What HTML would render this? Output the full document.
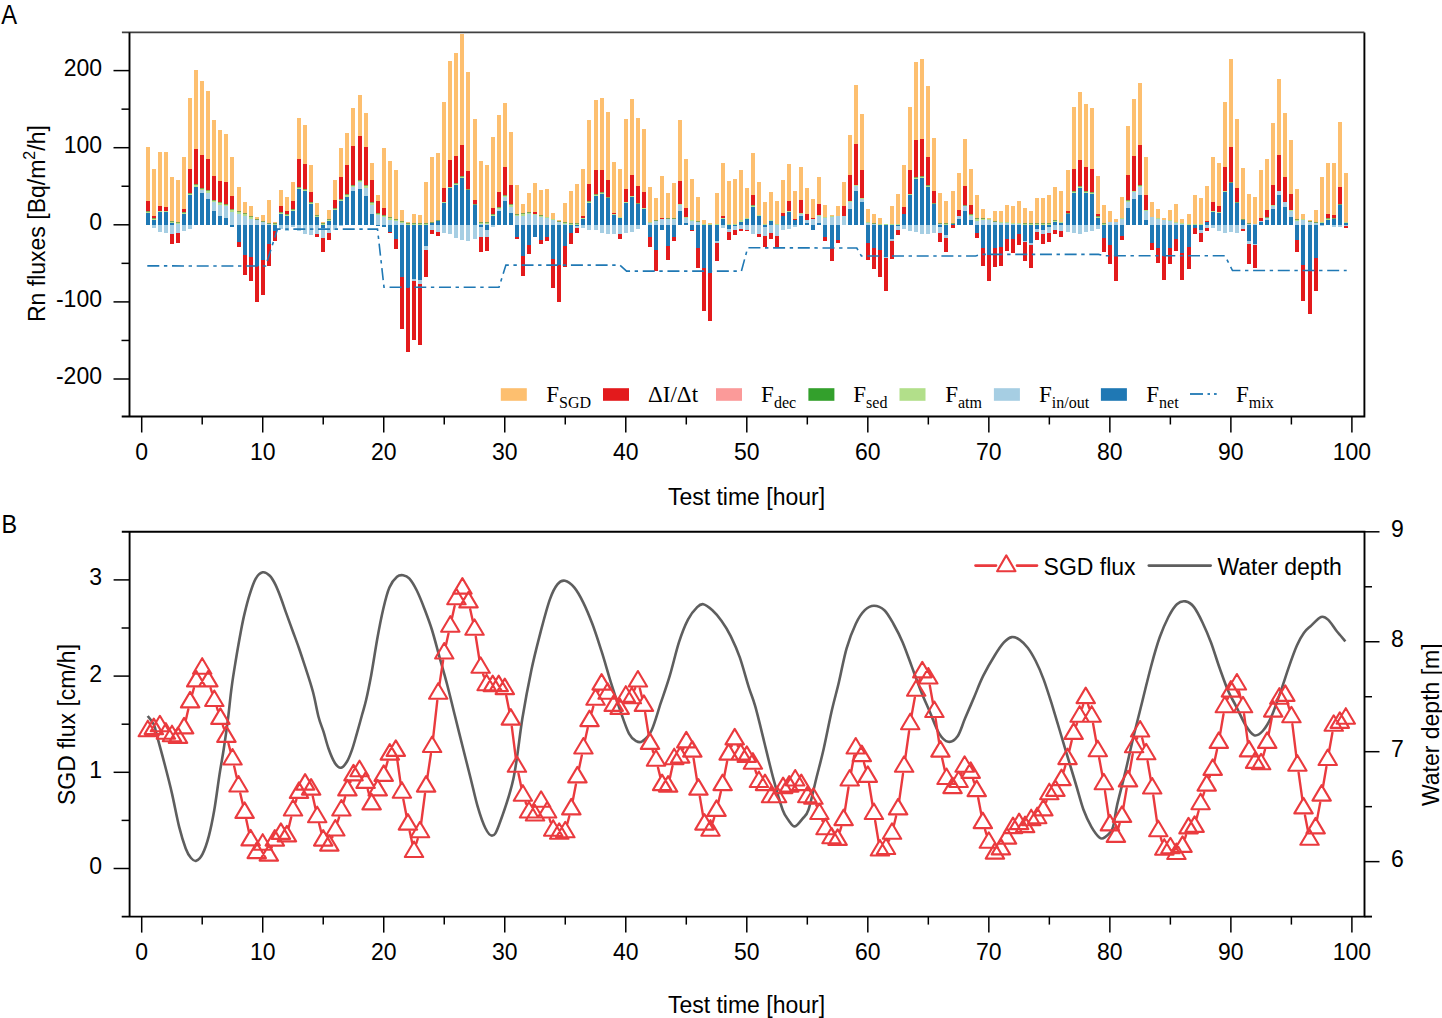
<!DOCTYPE html>
<html><head><meta charset="utf-8"><style>
html,body{margin:0;padding:0;background:#fff;}
svg{display:block;}
text{font-family:"Liberation Sans",sans-serif;fill:#000;}
.serif{font-family:"Liberation Serif",serif;}
</style></head><body>
<svg width="1442" height="1018" viewBox="0 0 1442 1018">
<rect width="1442" height="1018" fill="#fff"/>
<text transform="translate(1.2,24.2) scale(0.88,1)" style="font-size:27px">A</text>
<g shape-rendering="crispEdges">
<rect x="145.75" y="213.00" width="4" height="11.80" fill="#1F78B4"/><rect x="145.75" y="211.20" width="4" height="1.80" fill="#B2DF8A"/><rect x="145.75" y="211.20" width="4" height="0.9" fill="#5E7A30" fill-opacity="0.6"/><rect x="145.75" y="200.90" width="4" height="10.30" fill="#E31A1C"/><rect x="145.75" y="147.20" width="4" height="53.70" fill="#FDBF6F"/><rect x="145.75" y="224.80" width="4" height="0.50" fill="#A6CEE3"/>
<rect x="151.80" y="219.70" width="4" height="5.10" fill="#1F78B4"/><rect x="151.80" y="217.90" width="4" height="1.80" fill="#B2DF8A"/><rect x="151.80" y="217.90" width="4" height="0.9" fill="#5E7A30" fill-opacity="0.6"/><rect x="151.80" y="216.00" width="4" height="1.90" fill="#E31A1C"/><rect x="151.80" y="169.30" width="4" height="46.70" fill="#FDBF6F"/><rect x="151.80" y="224.80" width="4" height="2.80" fill="#A6CEE3"/>
<rect x="157.85" y="212.40" width="4" height="12.40" fill="#1F78B4"/><rect x="157.85" y="211.20" width="4" height="1.20" fill="#B2DF8A"/><rect x="157.85" y="206.10" width="4" height="5.10" fill="#E31A1C"/><rect x="157.85" y="152.10" width="4" height="54.00" fill="#FDBF6F"/><rect x="157.85" y="224.80" width="4" height="6.90" fill="#A6CEE3"/>
<rect x="163.90" y="211.70" width="4" height="13.10" fill="#1F78B4"/><rect x="163.90" y="210.50" width="4" height="1.20" fill="#B2DF8A"/><rect x="163.90" y="210.50" width="4" height="0.9" fill="#5E7A30" fill-opacity="0.6"/><rect x="163.90" y="206.60" width="4" height="3.90" fill="#E31A1C"/><rect x="163.90" y="152.10" width="4" height="54.50" fill="#FDBF6F"/><rect x="163.90" y="224.80" width="4" height="8.60" fill="#A6CEE3"/>
<rect x="169.95" y="223.00" width="4" height="1.80" fill="#1F78B4"/><rect x="169.95" y="220.90" width="4" height="2.10" fill="#B2DF8A"/><rect x="169.95" y="220.90" width="4" height="0.9" fill="#5E7A30" fill-opacity="0.6"/><rect x="169.95" y="177.20" width="4" height="43.70" fill="#FDBF6F"/><rect x="169.95" y="224.80" width="4" height="9.30" fill="#A6CEE3"/><rect x="169.95" y="234.10" width="4" height="10.30" fill="#E31A1C"/>
<rect x="176.01" y="223.60" width="4" height="1.20" fill="#A6CEE3"/><rect x="176.01" y="221.80" width="4" height="1.80" fill="#B2DF8A"/><rect x="176.01" y="221.80" width="4" height="0.9" fill="#5E7A30" fill-opacity="0.6"/><rect x="176.01" y="179.90" width="4" height="41.90" fill="#FDBF6F"/><rect x="176.01" y="224.80" width="4" height="8.20" fill="#A6CEE3"/><rect x="176.01" y="233.00" width="4" height="9.70" fill="#E31A1C"/>
<rect x="182.06" y="213.80" width="4" height="11.00" fill="#1F78B4"/><rect x="182.06" y="212.40" width="4" height="1.40" fill="#B2DF8A"/><rect x="182.06" y="212.40" width="4" height="0.9" fill="#5E7A30" fill-opacity="0.6"/><rect x="182.06" y="209.10" width="4" height="3.30" fill="#E31A1C"/><rect x="182.06" y="156.90" width="4" height="52.20" fill="#FDBF6F"/><rect x="182.06" y="224.80" width="4" height="5.70" fill="#A6CEE3"/>
<rect x="188.11" y="194.90" width="4" height="29.90" fill="#1F78B4"/><rect x="188.11" y="193.00" width="4" height="1.90" fill="#B2DF8A"/><rect x="188.11" y="193.00" width="4" height="0.9" fill="#5E7A30" fill-opacity="0.6"/><rect x="188.11" y="168.80" width="4" height="24.20" fill="#E31A1C"/><rect x="188.11" y="97.50" width="4" height="71.30" fill="#FDBF6F"/><rect x="188.11" y="224.80" width="4" height="3.90" fill="#A6CEE3"/>
<rect x="194.16" y="187.00" width="4" height="37.80" fill="#1F78B4"/><rect x="194.16" y="184.30" width="4" height="2.70" fill="#B2DF8A"/><rect x="194.16" y="184.30" width="4" height="0.9" fill="#5E7A30" fill-opacity="0.6"/><rect x="194.16" y="149.30" width="4" height="35.00" fill="#E31A1C"/><rect x="194.16" y="70.10" width="4" height="79.20" fill="#FDBF6F"/><rect x="194.16" y="224.80" width="4" height="0.50" fill="#A6CEE3"/>
<rect x="200.21" y="193.00" width="4" height="31.80" fill="#1F78B4"/><rect x="200.21" y="190.30" width="4" height="2.70" fill="#A6CEE3"/><rect x="200.21" y="187.80" width="4" height="2.50" fill="#B2DF8A"/><rect x="200.21" y="187.80" width="4" height="0.9" fill="#5E7A30" fill-opacity="0.6"/><rect x="200.21" y="155.00" width="4" height="32.80" fill="#E31A1C"/><rect x="200.21" y="81.10" width="4" height="73.90" fill="#FDBF6F"/>
<rect x="206.26" y="198.80" width="4" height="26.00" fill="#1F78B4"/><rect x="206.26" y="192.60" width="4" height="6.20" fill="#A6CEE3"/><rect x="206.26" y="190.30" width="4" height="2.30" fill="#B2DF8A"/><rect x="206.26" y="190.30" width="4" height="0.9" fill="#5E7A30" fill-opacity="0.6"/><rect x="206.26" y="158.70" width="4" height="31.60" fill="#E31A1C"/><rect x="206.26" y="90.80" width="4" height="67.90" fill="#FDBF6F"/>
<rect x="212.31" y="211.20" width="4" height="13.60" fill="#1F78B4"/><rect x="212.31" y="202.30" width="4" height="8.90" fill="#A6CEE3"/><rect x="212.31" y="199.70" width="4" height="2.60" fill="#B2DF8A"/><rect x="212.31" y="199.70" width="4" height="0.9" fill="#5E7A30" fill-opacity="0.6"/><rect x="212.31" y="175.80" width="4" height="23.90" fill="#E31A1C"/><rect x="212.31" y="120.10" width="4" height="55.70" fill="#FDBF6F"/>
<rect x="218.36" y="216.00" width="4" height="8.80" fill="#1F78B4"/><rect x="218.36" y="205.30" width="4" height="10.70" fill="#A6CEE3"/><rect x="218.36" y="202.30" width="4" height="3.00" fill="#B2DF8A"/><rect x="218.36" y="202.30" width="4" height="0.9" fill="#5E7A30" fill-opacity="0.6"/><rect x="218.36" y="180.80" width="4" height="21.50" fill="#E31A1C"/><rect x="218.36" y="130.20" width="4" height="50.60" fill="#FDBF6F"/>
<rect x="224.41" y="218.30" width="4" height="6.50" fill="#1F78B4"/><rect x="224.41" y="206.40" width="4" height="11.90" fill="#A6CEE3"/><rect x="224.41" y="203.60" width="4" height="2.80" fill="#B2DF8A"/><rect x="224.41" y="203.60" width="4" height="0.9" fill="#5E7A30" fill-opacity="0.6"/><rect x="224.41" y="182.00" width="4" height="21.60" fill="#E31A1C"/><rect x="224.41" y="134.30" width="4" height="47.70" fill="#FDBF6F"/>
<rect x="230.46" y="212.10" width="4" height="12.70" fill="#A6CEE3"/><rect x="230.46" y="209.10" width="4" height="3.00" fill="#B2DF8A"/><rect x="230.46" y="209.10" width="4" height="0.9" fill="#5E7A30" fill-opacity="0.6"/><rect x="230.46" y="196.20" width="4" height="12.90" fill="#E31A1C"/><rect x="230.46" y="156.90" width="4" height="39.30" fill="#FDBF6F"/><rect x="230.46" y="224.80" width="4" height="2.00" fill="#1F78B4"/>
<rect x="236.52" y="213.50" width="4" height="11.30" fill="#A6CEE3"/><rect x="236.52" y="211.00" width="4" height="2.50" fill="#B2DF8A"/><rect x="236.52" y="211.00" width="4" height="0.9" fill="#5E7A30" fill-opacity="0.6"/><rect x="236.52" y="186.80" width="4" height="24.20" fill="#FDBF6F"/><rect x="236.52" y="224.80" width="4" height="17.50" fill="#1F78B4"/><rect x="236.52" y="242.30" width="4" height="4.90" fill="#E31A1C"/>
<rect x="242.57" y="215.60" width="4" height="9.20" fill="#A6CEE3"/><rect x="242.57" y="213.00" width="4" height="2.60" fill="#B2DF8A"/><rect x="242.57" y="213.00" width="4" height="0.9" fill="#5E7A30" fill-opacity="0.6"/><rect x="242.57" y="202.00" width="4" height="11.00" fill="#FDBF6F"/><rect x="242.57" y="224.80" width="4" height="30.30" fill="#1F78B4"/><rect x="242.57" y="255.10" width="4" height="20.00" fill="#E31A1C"/>
<rect x="248.62" y="218.60" width="4" height="6.20" fill="#A6CEE3"/><rect x="248.62" y="216.00" width="4" height="2.60" fill="#B2DF8A"/><rect x="248.62" y="216.00" width="4" height="0.9" fill="#5E7A30" fill-opacity="0.6"/><rect x="248.62" y="206.10" width="4" height="9.90" fill="#FDBF6F"/><rect x="248.62" y="224.80" width="4" height="31.90" fill="#1F78B4"/><rect x="248.62" y="256.70" width="4" height="24.60" fill="#E31A1C"/>
<rect x="254.67" y="220.00" width="4" height="4.80" fill="#A6CEE3"/><rect x="254.67" y="218.80" width="4" height="1.20" fill="#B2DF8A"/><rect x="254.67" y="218.80" width="4" height="0.9" fill="#5E7A30" fill-opacity="0.6"/><rect x="254.67" y="217.00" width="4" height="1.80" fill="#FDBF6F"/><rect x="254.67" y="224.80" width="4" height="41.30" fill="#1F78B4"/><rect x="254.67" y="266.10" width="4" height="36.30" fill="#E31A1C"/>
<rect x="260.72" y="222.30" width="4" height="2.50" fill="#A6CEE3"/><rect x="260.72" y="220.60" width="4" height="1.70" fill="#B2DF8A"/><rect x="260.72" y="220.60" width="4" height="0.9" fill="#5E7A30" fill-opacity="0.6"/><rect x="260.72" y="214.90" width="4" height="5.70" fill="#FDBF6F"/><rect x="260.72" y="224.80" width="4" height="35.40" fill="#1F78B4"/><rect x="260.72" y="260.20" width="4" height="34.50" fill="#E31A1C"/>
<rect x="266.77" y="224.40" width="4" height="0.40" fill="#A6CEE3"/><rect x="266.77" y="222.70" width="4" height="1.70" fill="#B2DF8A"/><rect x="266.77" y="222.70" width="4" height="0.9" fill="#5E7A30" fill-opacity="0.6"/><rect x="266.77" y="199.90" width="4" height="22.80" fill="#FDBF6F"/><rect x="266.77" y="224.80" width="4" height="18.70" fill="#1F78B4"/><rect x="266.77" y="243.50" width="4" height="22.10" fill="#E31A1C"/>
<rect x="272.82" y="222.70" width="4" height="2.10" fill="#B2DF8A"/><rect x="272.82" y="222.70" width="4" height="0.9" fill="#5E7A30" fill-opacity="0.6"/><rect x="272.82" y="222.00" width="4" height="0.70" fill="#FDBF6F"/><rect x="272.82" y="224.80" width="4" height="6.40" fill="#1F78B4"/><rect x="272.82" y="231.20" width="4" height="9.70" fill="#E31A1C"/>
<rect x="278.87" y="213.50" width="4" height="11.30" fill="#1F78B4"/><rect x="278.87" y="211.70" width="4" height="1.80" fill="#B2DF8A"/><rect x="278.87" y="211.70" width="4" height="0.9" fill="#5E7A30" fill-opacity="0.6"/><rect x="278.87" y="205.90" width="4" height="5.80" fill="#E31A1C"/><rect x="278.87" y="189.60" width="4" height="16.30" fill="#FDBF6F"/><rect x="278.87" y="224.80" width="4" height="4.60" fill="#A6CEE3"/>
<rect x="284.92" y="215.60" width="4" height="9.20" fill="#1F78B4"/><rect x="284.92" y="213.80" width="4" height="1.80" fill="#B2DF8A"/><rect x="284.92" y="213.80" width="4" height="0.9" fill="#5E7A30" fill-opacity="0.6"/><rect x="284.92" y="211.20" width="4" height="2.60" fill="#E31A1C"/><rect x="284.92" y="197.00" width="4" height="14.20" fill="#FDBF6F"/><rect x="284.92" y="224.80" width="4" height="6.00" fill="#A6CEE3"/>
<rect x="290.98" y="210.80" width="4" height="14.00" fill="#1F78B4"/><rect x="290.98" y="209.10" width="4" height="1.70" fill="#B2DF8A"/><rect x="290.98" y="209.10" width="4" height="0.9" fill="#5E7A30" fill-opacity="0.6"/><rect x="290.98" y="201.10" width="4" height="8.00" fill="#E31A1C"/><rect x="290.98" y="182.00" width="4" height="19.10" fill="#FDBF6F"/><rect x="290.98" y="224.80" width="4" height="1.90" fill="#A6CEE3"/>
<rect x="297.03" y="188.70" width="4" height="36.10" fill="#1F78B4"/><rect x="297.03" y="187.30" width="4" height="1.40" fill="#B2DF8A"/><rect x="297.03" y="187.30" width="4" height="0.9" fill="#5E7A30" fill-opacity="0.6"/><rect x="297.03" y="158.70" width="4" height="28.60" fill="#E31A1C"/><rect x="297.03" y="117.70" width="4" height="41.00" fill="#FDBF6F"/><rect x="297.03" y="224.80" width="4" height="6.40" fill="#A6CEE3"/>
<rect x="303.08" y="190.50" width="4" height="34.30" fill="#1F78B4"/><rect x="303.08" y="188.70" width="4" height="1.80" fill="#B2DF8A"/><rect x="303.08" y="188.70" width="4" height="0.9" fill="#5E7A30" fill-opacity="0.6"/><rect x="303.08" y="164.00" width="4" height="24.70" fill="#E31A1C"/><rect x="303.08" y="124.70" width="4" height="39.30" fill="#FDBF6F"/><rect x="303.08" y="224.80" width="4" height="9.00" fill="#A6CEE3"/>
<rect x="309.13" y="203.80" width="4" height="21.00" fill="#1F78B4"/><rect x="309.13" y="202.00" width="4" height="1.80" fill="#B2DF8A"/><rect x="309.13" y="202.00" width="4" height="0.9" fill="#5E7A30" fill-opacity="0.6"/><rect x="309.13" y="191.70" width="4" height="10.30" fill="#E31A1C"/><rect x="309.13" y="165.40" width="4" height="26.30" fill="#FDBF6F"/><rect x="309.13" y="224.80" width="4" height="9.90" fill="#A6CEE3"/>
<rect x="315.18" y="217.40" width="4" height="7.40" fill="#1F78B4"/><rect x="315.18" y="215.30" width="4" height="2.10" fill="#B2DF8A"/><rect x="315.18" y="215.30" width="4" height="0.9" fill="#5E7A30" fill-opacity="0.6"/><rect x="315.18" y="203.20" width="4" height="12.10" fill="#FDBF6F"/><rect x="315.18" y="224.80" width="4" height="9.00" fill="#A6CEE3"/><rect x="315.18" y="233.80" width="4" height="3.20" fill="#E31A1C"/>
<rect x="321.23" y="222.70" width="4" height="2.10" fill="#B2DF8A"/><rect x="321.23" y="222.70" width="4" height="0.9" fill="#5E7A30" fill-opacity="0.6"/><rect x="321.23" y="222.00" width="4" height="0.70" fill="#FDBF6F"/><rect x="321.23" y="224.80" width="4" height="2.80" fill="#1F78B4"/><rect x="321.23" y="227.60" width="4" height="10.30" fill="#A6CEE3"/><rect x="321.23" y="237.90" width="4" height="14.50" fill="#E31A1C"/>
<rect x="327.28" y="220.90" width="4" height="3.90" fill="#1F78B4"/><rect x="327.28" y="218.90" width="4" height="2.00" fill="#B2DF8A"/><rect x="327.28" y="218.90" width="4" height="0.9" fill="#5E7A30" fill-opacity="0.6"/><rect x="327.28" y="209.90" width="4" height="9.00" fill="#FDBF6F"/><rect x="327.28" y="224.80" width="4" height="8.10" fill="#A6CEE3"/><rect x="327.28" y="232.90" width="4" height="6.80" fill="#E31A1C"/>
<rect x="333.33" y="209.90" width="4" height="14.90" fill="#1F78B4"/><rect x="333.33" y="208.20" width="4" height="1.70" fill="#B2DF8A"/><rect x="333.33" y="208.20" width="4" height="0.9" fill="#5E7A30" fill-opacity="0.6"/><rect x="333.33" y="199.90" width="4" height="8.30" fill="#E31A1C"/><rect x="333.33" y="179.90" width="4" height="20.00" fill="#FDBF6F"/><rect x="333.33" y="224.80" width="4" height="5.50" fill="#A6CEE3"/>
<rect x="339.38" y="200.80" width="4" height="24.00" fill="#1F78B4"/><rect x="339.38" y="199.30" width="4" height="1.50" fill="#B2DF8A"/><rect x="339.38" y="199.30" width="4" height="0.9" fill="#5E7A30" fill-opacity="0.6"/><rect x="339.38" y="177.20" width="4" height="22.10" fill="#E31A1C"/><rect x="339.38" y="148.40" width="4" height="28.80" fill="#FDBF6F"/><rect x="339.38" y="224.80" width="4" height="1.10" fill="#A6CEE3"/>
<rect x="345.43" y="196.70" width="4" height="28.10" fill="#1F78B4"/><rect x="345.43" y="194.00" width="4" height="2.70" fill="#B2DF8A"/><rect x="345.43" y="194.00" width="4" height="0.9" fill="#5E7A30" fill-opacity="0.6"/><rect x="345.43" y="164.50" width="4" height="29.50" fill="#E31A1C"/><rect x="345.43" y="132.50" width="4" height="32.00" fill="#FDBF6F"/>
<rect x="351.49" y="191.40" width="4" height="33.40" fill="#1F78B4"/><rect x="351.49" y="187.00" width="4" height="4.40" fill="#A6CEE3"/><rect x="351.49" y="184.80" width="4" height="2.20" fill="#B2DF8A"/><rect x="351.49" y="184.80" width="4" height="0.9" fill="#5E7A30" fill-opacity="0.6"/><rect x="351.49" y="145.90" width="4" height="38.90" fill="#E31A1C"/><rect x="351.49" y="107.90" width="4" height="38.00" fill="#FDBF6F"/>
<rect x="357.54" y="188.70" width="4" height="36.10" fill="#1F78B4"/><rect x="357.54" y="182.00" width="4" height="6.70" fill="#A6CEE3"/><rect x="357.54" y="179.90" width="4" height="2.10" fill="#B2DF8A"/><rect x="357.54" y="179.90" width="4" height="0.9" fill="#5E7A30" fill-opacity="0.6"/><rect x="357.54" y="136.00" width="4" height="43.90" fill="#E31A1C"/><rect x="357.54" y="95.00" width="4" height="41.00" fill="#FDBF6F"/>
<rect x="363.59" y="195.50" width="4" height="29.30" fill="#1F78B4"/><rect x="363.59" y="187.80" width="4" height="7.70" fill="#A6CEE3"/><rect x="363.59" y="185.20" width="4" height="2.60" fill="#B2DF8A"/><rect x="363.59" y="185.20" width="4" height="0.9" fill="#5E7A30" fill-opacity="0.6"/><rect x="363.59" y="147.20" width="4" height="38.00" fill="#E31A1C"/><rect x="363.59" y="112.70" width="4" height="34.50" fill="#FDBF6F"/>
<rect x="369.64" y="213.80" width="4" height="11.00" fill="#1F78B4"/><rect x="369.64" y="204.70" width="4" height="9.10" fill="#A6CEE3"/><rect x="369.64" y="202.00" width="4" height="2.70" fill="#B2DF8A"/><rect x="369.64" y="202.00" width="4" height="0.9" fill="#5E7A30" fill-opacity="0.6"/><rect x="369.64" y="179.90" width="4" height="22.10" fill="#E31A1C"/><rect x="369.64" y="163.10" width="4" height="16.80" fill="#FDBF6F"/>
<rect x="375.69" y="214.90" width="4" height="9.90" fill="#A6CEE3"/><rect x="375.69" y="212.60" width="4" height="2.30" fill="#B2DF8A"/><rect x="375.69" y="212.60" width="4" height="0.9" fill="#5E7A30" fill-opacity="0.6"/><rect x="375.69" y="200.80" width="4" height="11.80" fill="#E31A1C"/><rect x="375.69" y="194.90" width="4" height="5.90" fill="#FDBF6F"/><rect x="375.69" y="224.80" width="4" height="1.00" fill="#1F78B4"/>
<rect x="381.74" y="217.30" width="4" height="7.50" fill="#A6CEE3"/><rect x="381.74" y="214.70" width="4" height="2.60" fill="#B2DF8A"/><rect x="381.74" y="214.70" width="4" height="0.9" fill="#5E7A30" fill-opacity="0.6"/><rect x="381.74" y="208.40" width="4" height="6.30" fill="#E31A1C"/><rect x="381.74" y="147.70" width="4" height="60.70" fill="#FDBF6F"/><rect x="381.74" y="224.80" width="4" height="2.10" fill="#1F78B4"/>
<rect x="387.79" y="219.60" width="4" height="5.20" fill="#A6CEE3"/><rect x="387.79" y="216.60" width="4" height="3.00" fill="#B2DF8A"/><rect x="387.79" y="216.60" width="4" height="0.9" fill="#5E7A30" fill-opacity="0.6"/><rect x="387.79" y="161.10" width="4" height="55.50" fill="#FDBF6F"/><rect x="387.79" y="224.80" width="4" height="7.20" fill="#1F78B4"/><rect x="387.79" y="232.00" width="4" height="1.40" fill="#E31A1C"/>
<rect x="393.84" y="221.00" width="4" height="3.80" fill="#A6CEE3"/><rect x="393.84" y="219.20" width="4" height="1.80" fill="#B2DF8A"/><rect x="393.84" y="219.20" width="4" height="0.9" fill="#5E7A30" fill-opacity="0.6"/><rect x="393.84" y="169.90" width="4" height="49.30" fill="#FDBF6F"/><rect x="393.84" y="224.80" width="4" height="13.80" fill="#1F78B4"/><rect x="393.84" y="238.60" width="4" height="10.30" fill="#E31A1C"/>
<rect x="399.89" y="222.50" width="4" height="2.30" fill="#A6CEE3"/><rect x="399.89" y="220.60" width="4" height="1.90" fill="#B2DF8A"/><rect x="399.89" y="220.60" width="4" height="0.9" fill="#5E7A30" fill-opacity="0.6"/><rect x="399.89" y="210.20" width="4" height="10.40" fill="#FDBF6F"/><rect x="399.89" y="224.80" width="4" height="52.20" fill="#1F78B4"/><rect x="399.89" y="277.00" width="4" height="51.80" fill="#E31A1C"/>
<rect x="405.94" y="222.90" width="4" height="1.90" fill="#B2DF8A"/><rect x="405.94" y="222.90" width="4" height="0.9" fill="#5E7A30" fill-opacity="0.6"/><rect x="405.94" y="222.10" width="4" height="0.80" fill="#FDBF6F"/><rect x="405.94" y="224.80" width="4" height="62.50" fill="#1F78B4"/><rect x="405.94" y="287.30" width="4" height="64.50" fill="#E31A1C"/>
<rect x="412.00" y="223.30" width="4" height="1.50" fill="#B2DF8A"/><rect x="412.00" y="223.30" width="4" height="0.9" fill="#5E7A30" fill-opacity="0.6"/><rect x="412.00" y="214.30" width="4" height="9.00" fill="#FDBF6F"/><rect x="412.00" y="224.80" width="4" height="54.30" fill="#1F78B4"/><rect x="412.00" y="279.10" width="4" height="2.20" fill="#A6CEE3"/><rect x="412.00" y="281.30" width="4" height="58.20" fill="#E31A1C"/>
<rect x="418.05" y="222.90" width="4" height="1.90" fill="#B2DF8A"/><rect x="418.05" y="222.90" width="4" height="0.9" fill="#5E7A30" fill-opacity="0.6"/><rect x="418.05" y="215.10" width="4" height="7.80" fill="#FDBF6F"/><rect x="418.05" y="224.80" width="4" height="55.00" fill="#1F78B4"/><rect x="418.05" y="279.80" width="4" height="4.20" fill="#A6CEE3"/><rect x="418.05" y="284.00" width="4" height="60.70" fill="#E31A1C"/>
<rect x="424.10" y="223.30" width="4" height="1.50" fill="#B2DF8A"/><rect x="424.10" y="223.30" width="4" height="0.9" fill="#5E7A30" fill-opacity="0.6"/><rect x="424.10" y="181.90" width="4" height="41.40" fill="#FDBF6F"/><rect x="424.10" y="224.80" width="4" height="21.20" fill="#1F78B4"/><rect x="424.10" y="246.00" width="4" height="4.40" fill="#A6CEE3"/><rect x="424.10" y="250.40" width="4" height="26.50" fill="#E31A1C"/>
<rect x="430.15" y="223.20" width="4" height="1.60" fill="#1F78B4"/><rect x="430.15" y="221.80" width="4" height="1.40" fill="#B2DF8A"/><rect x="430.15" y="221.80" width="4" height="0.9" fill="#5E7A30" fill-opacity="0.6"/><rect x="430.15" y="156.70" width="4" height="65.10" fill="#FDBF6F"/><rect x="430.15" y="224.80" width="4" height="4.90" fill="#A6CEE3"/><rect x="430.15" y="229.70" width="4" height="4.50" fill="#E31A1C"/>
<rect x="436.20" y="221.00" width="4" height="3.80" fill="#1F78B4"/><rect x="436.20" y="219.60" width="4" height="1.40" fill="#B2DF8A"/><rect x="436.20" y="219.60" width="4" height="0.9" fill="#5E7A30" fill-opacity="0.6"/><rect x="436.20" y="153.20" width="4" height="66.40" fill="#FDBF6F"/><rect x="436.20" y="224.80" width="4" height="6.70" fill="#A6CEE3"/><rect x="436.20" y="231.50" width="4" height="4.90" fill="#E31A1C"/>
<rect x="442.25" y="202.90" width="4" height="21.90" fill="#1F78B4"/><rect x="442.25" y="201.90" width="4" height="1.00" fill="#B2DF8A"/><rect x="442.25" y="187.50" width="4" height="14.40" fill="#E31A1C"/><rect x="442.25" y="102.30" width="4" height="85.20" fill="#FDBF6F"/><rect x="442.25" y="224.80" width="4" height="7.90" fill="#A6CEE3"/>
<rect x="448.30" y="188.20" width="4" height="36.60" fill="#1F78B4"/><rect x="448.30" y="187.20" width="4" height="1.00" fill="#B2DF8A"/><rect x="448.30" y="160.30" width="4" height="26.90" fill="#E31A1C"/><rect x="448.30" y="61.10" width="4" height="99.20" fill="#FDBF6F"/><rect x="448.30" y="224.80" width="4" height="9.40" fill="#A6CEE3"/>
<rect x="454.35" y="184.80" width="4" height="40.00" fill="#1F78B4"/><rect x="454.35" y="183.30" width="4" height="1.50" fill="#B2DF8A"/><rect x="454.35" y="183.30" width="4" height="0.9" fill="#5E7A30" fill-opacity="0.6"/><rect x="454.35" y="155.70" width="4" height="27.60" fill="#E31A1C"/><rect x="454.35" y="52.60" width="4" height="103.10" fill="#FDBF6F"/><rect x="454.35" y="224.80" width="4" height="13.00" fill="#A6CEE3"/>
<rect x="460.40" y="177.70" width="4" height="47.10" fill="#1F78B4"/><rect x="460.40" y="176.30" width="4" height="1.40" fill="#B2DF8A"/><rect x="460.40" y="176.30" width="4" height="0.9" fill="#5E7A30" fill-opacity="0.6"/><rect x="460.40" y="144.90" width="4" height="31.40" fill="#E31A1C"/><rect x="460.40" y="34.30" width="4" height="110.60" fill="#FDBF6F"/><rect x="460.40" y="224.80" width="4" height="15.00" fill="#A6CEE3"/>
<rect x="466.45" y="190.10" width="4" height="34.70" fill="#1F78B4"/><rect x="466.45" y="188.80" width="4" height="1.30" fill="#B2DF8A"/><rect x="466.45" y="188.80" width="4" height="0.9" fill="#5E7A30" fill-opacity="0.6"/><rect x="466.45" y="170.50" width="4" height="18.30" fill="#E31A1C"/><rect x="466.45" y="72.20" width="4" height="98.30" fill="#FDBF6F"/><rect x="466.45" y="224.80" width="4" height="16.00" fill="#A6CEE3"/>
<rect x="472.50" y="205.40" width="4" height="19.40" fill="#1F78B4"/><rect x="472.50" y="203.90" width="4" height="1.50" fill="#B2DF8A"/><rect x="472.50" y="203.90" width="4" height="0.9" fill="#5E7A30" fill-opacity="0.6"/><rect x="472.50" y="199.90" width="4" height="4.00" fill="#E31A1C"/><rect x="472.50" y="118.80" width="4" height="81.10" fill="#FDBF6F"/><rect x="472.50" y="224.80" width="4" height="13.80" fill="#A6CEE3"/>
<rect x="478.56" y="223.60" width="4" height="1.20" fill="#A6CEE3"/><rect x="478.56" y="221.60" width="4" height="2.00" fill="#B2DF8A"/><rect x="478.56" y="221.60" width="4" height="0.9" fill="#5E7A30" fill-opacity="0.6"/><rect x="478.56" y="161.20" width="4" height="60.40" fill="#FDBF6F"/><rect x="478.56" y="224.80" width="4" height="2.10" fill="#1F78B4"/><rect x="478.56" y="226.90" width="4" height="10.30" fill="#A6CEE3"/><rect x="478.56" y="237.20" width="4" height="14.40" fill="#E31A1C"/>
<rect x="484.61" y="223.60" width="4" height="1.20" fill="#A6CEE3"/><rect x="484.61" y="221.60" width="4" height="2.00" fill="#B2DF8A"/><rect x="484.61" y="221.60" width="4" height="0.9" fill="#5E7A30" fill-opacity="0.6"/><rect x="484.61" y="165.00" width="4" height="56.60" fill="#FDBF6F"/><rect x="484.61" y="224.80" width="4" height="4.90" fill="#1F78B4"/><rect x="484.61" y="229.70" width="4" height="7.50" fill="#A6CEE3"/><rect x="484.61" y="237.20" width="4" height="13.90" fill="#E31A1C"/>
<rect x="490.66" y="215.70" width="4" height="9.10" fill="#1F78B4"/><rect x="490.66" y="213.70" width="4" height="2.00" fill="#B2DF8A"/><rect x="490.66" y="213.70" width="4" height="0.9" fill="#5E7A30" fill-opacity="0.6"/><rect x="490.66" y="208.40" width="4" height="5.30" fill="#E31A1C"/><rect x="490.66" y="137.10" width="4" height="71.30" fill="#FDBF6F"/><rect x="490.66" y="224.80" width="4" height="2.10" fill="#A6CEE3"/>
<rect x="496.71" y="210.80" width="4" height="14.00" fill="#1F78B4"/><rect x="496.71" y="209.20" width="4" height="1.60" fill="#A6CEE3"/><rect x="496.71" y="206.80" width="4" height="2.40" fill="#B2DF8A"/><rect x="496.71" y="206.80" width="4" height="0.9" fill="#5E7A30" fill-opacity="0.6"/><rect x="496.71" y="191.50" width="4" height="15.30" fill="#E31A1C"/><rect x="496.71" y="115.10" width="4" height="76.40" fill="#FDBF6F"/>
<rect x="502.76" y="201.40" width="4" height="23.40" fill="#1F78B4"/><rect x="502.76" y="197.20" width="4" height="4.20" fill="#A6CEE3"/><rect x="502.76" y="195.30" width="4" height="1.90" fill="#B2DF8A"/><rect x="502.76" y="195.30" width="4" height="0.9" fill="#5E7A30" fill-opacity="0.6"/><rect x="502.76" y="167.30" width="4" height="28.00" fill="#E31A1C"/><rect x="502.76" y="103.10" width="4" height="64.20" fill="#FDBF6F"/>
<rect x="508.81" y="212.90" width="4" height="11.90" fill="#1F78B4"/><rect x="508.81" y="206.50" width="4" height="6.40" fill="#A6CEE3"/><rect x="508.81" y="204.20" width="4" height="2.30" fill="#B2DF8A"/><rect x="508.81" y="204.20" width="4" height="0.9" fill="#5E7A30" fill-opacity="0.6"/><rect x="508.81" y="184.90" width="4" height="19.30" fill="#E31A1C"/><rect x="508.81" y="131.90" width="4" height="53.00" fill="#FDBF6F"/>
<rect x="514.86" y="216.00" width="4" height="8.80" fill="#A6CEE3"/><rect x="514.86" y="213.60" width="4" height="2.40" fill="#B2DF8A"/><rect x="514.86" y="213.60" width="4" height="0.9" fill="#5E7A30" fill-opacity="0.6"/><rect x="514.86" y="185.00" width="4" height="28.60" fill="#FDBF6F"/><rect x="514.86" y="224.80" width="4" height="12.30" fill="#1F78B4"/><rect x="514.86" y="237.10" width="4" height="1.60" fill="#E31A1C"/>
<rect x="520.91" y="215.50" width="4" height="9.30" fill="#A6CEE3"/><rect x="520.91" y="212.90" width="4" height="2.60" fill="#B2DF8A"/><rect x="520.91" y="212.90" width="4" height="0.9" fill="#5E7A30" fill-opacity="0.6"/><rect x="520.91" y="203.90" width="4" height="9.00" fill="#FDBF6F"/><rect x="520.91" y="224.80" width="4" height="31.40" fill="#1F78B4"/><rect x="520.91" y="256.20" width="4" height="20.20" fill="#E31A1C"/>
<rect x="526.96" y="214.40" width="4" height="10.40" fill="#A6CEE3"/><rect x="526.96" y="212.00" width="4" height="2.40" fill="#B2DF8A"/><rect x="526.96" y="212.00" width="4" height="0.9" fill="#5E7A30" fill-opacity="0.6"/><rect x="526.96" y="192.70" width="4" height="19.30" fill="#FDBF6F"/><rect x="526.96" y="224.80" width="4" height="20.60" fill="#1F78B4"/><rect x="526.96" y="245.40" width="4" height="8.20" fill="#E31A1C"/>
<rect x="533.01" y="214.90" width="4" height="9.90" fill="#A6CEE3"/><rect x="533.01" y="213.90" width="4" height="1.00" fill="#B2DF8A"/><rect x="533.01" y="211.80" width="4" height="2.10" fill="#E31A1C"/><rect x="533.01" y="183.00" width="4" height="28.80" fill="#FDBF6F"/><rect x="533.01" y="224.80" width="4" height="11.80" fill="#1F78B4"/>
<rect x="539.07" y="216.50" width="4" height="8.30" fill="#A6CEE3"/><rect x="539.07" y="214.70" width="4" height="1.80" fill="#B2DF8A"/><rect x="539.07" y="214.70" width="4" height="0.9" fill="#5E7A30" fill-opacity="0.6"/><rect x="539.07" y="189.60" width="4" height="25.10" fill="#FDBF6F"/><rect x="539.07" y="224.80" width="4" height="15.20" fill="#1F78B4"/><rect x="539.07" y="240.00" width="4" height="4.40" fill="#E31A1C"/>
<rect x="545.12" y="217.90" width="4" height="6.90" fill="#A6CEE3"/><rect x="545.12" y="217.00" width="4" height="0.90" fill="#B2DF8A"/><rect x="545.12" y="188.50" width="4" height="28.50" fill="#FDBF6F"/><rect x="545.12" y="224.80" width="4" height="12.60" fill="#1F78B4"/><rect x="545.12" y="237.40" width="4" height="3.90" fill="#E31A1C"/>
<rect x="551.17" y="219.90" width="4" height="4.90" fill="#A6CEE3"/><rect x="551.17" y="218.80" width="4" height="1.10" fill="#B2DF8A"/><rect x="551.17" y="212.50" width="4" height="6.30" fill="#FDBF6F"/><rect x="551.17" y="224.80" width="4" height="34.20" fill="#1F78B4"/><rect x="551.17" y="259.00" width="4" height="28.70" fill="#E31A1C"/>
<rect x="557.22" y="222.00" width="4" height="2.80" fill="#A6CEE3"/><rect x="557.22" y="220.80" width="4" height="1.20" fill="#B2DF8A"/><rect x="557.22" y="220.80" width="4" height="0.9" fill="#5E7A30" fill-opacity="0.6"/><rect x="557.22" y="219.60" width="4" height="1.20" fill="#FDBF6F"/><rect x="557.22" y="224.80" width="4" height="40.30" fill="#1F78B4"/><rect x="557.22" y="265.10" width="4" height="36.80" fill="#E31A1C"/>
<rect x="563.27" y="223.50" width="4" height="1.30" fill="#A6CEE3"/><rect x="563.27" y="222.00" width="4" height="1.50" fill="#B2DF8A"/><rect x="563.27" y="222.00" width="4" height="0.9" fill="#5E7A30" fill-opacity="0.6"/><rect x="563.27" y="202.60" width="4" height="19.40" fill="#FDBF6F"/><rect x="563.27" y="224.80" width="4" height="21.40" fill="#1F78B4"/><rect x="563.27" y="246.20" width="4" height="20.30" fill="#E31A1C"/>
<rect x="569.32" y="223.40" width="4" height="1.40" fill="#B2DF8A"/><rect x="569.32" y="223.40" width="4" height="0.9" fill="#5E7A30" fill-opacity="0.6"/><rect x="569.32" y="190.90" width="4" height="32.50" fill="#FDBF6F"/><rect x="569.32" y="224.80" width="4" height="8.30" fill="#1F78B4"/><rect x="569.32" y="233.10" width="4" height="11.30" fill="#E31A1C"/>
<rect x="575.37" y="223.40" width="4" height="1.40" fill="#B2DF8A"/><rect x="575.37" y="223.40" width="4" height="0.9" fill="#5E7A30" fill-opacity="0.6"/><rect x="575.37" y="184.20" width="4" height="39.20" fill="#FDBF6F"/><rect x="575.37" y="224.80" width="4" height="1.50" fill="#1F78B4"/><rect x="575.37" y="226.30" width="4" height="1.90" fill="#A6CEE3"/><rect x="575.37" y="228.20" width="4" height="4.60" fill="#E31A1C"/>
<rect x="581.42" y="218.70" width="4" height="6.10" fill="#1F78B4"/><rect x="581.42" y="218.20" width="4" height="0.50" fill="#B2DF8A"/><rect x="581.42" y="215.50" width="4" height="2.70" fill="#E31A1C"/><rect x="581.42" y="169.20" width="4" height="46.30" fill="#FDBF6F"/><rect x="581.42" y="224.80" width="4" height="3.40" fill="#A6CEE3"/>
<rect x="587.47" y="202.60" width="4" height="22.20" fill="#1F78B4"/><rect x="587.47" y="201.10" width="4" height="1.50" fill="#B2DF8A"/><rect x="587.47" y="201.10" width="4" height="0.9" fill="#5E7A30" fill-opacity="0.6"/><rect x="587.47" y="183.80" width="4" height="17.30" fill="#E31A1C"/><rect x="587.47" y="120.40" width="4" height="63.40" fill="#FDBF6F"/><rect x="587.47" y="224.80" width="4" height="4.90" fill="#A6CEE3"/>
<rect x="593.52" y="195.60" width="4" height="29.20" fill="#1F78B4"/><rect x="593.52" y="194.00" width="4" height="1.60" fill="#B2DF8A"/><rect x="593.52" y="194.00" width="4" height="0.9" fill="#5E7A30" fill-opacity="0.6"/><rect x="593.52" y="170.10" width="4" height="23.90" fill="#E31A1C"/><rect x="593.52" y="99.70" width="4" height="70.40" fill="#FDBF6F"/><rect x="593.52" y="224.80" width="4" height="4.90" fill="#A6CEE3"/>
<rect x="599.58" y="194.00" width="4" height="30.80" fill="#1F78B4"/><rect x="599.58" y="192.40" width="4" height="1.60" fill="#B2DF8A"/><rect x="599.58" y="192.40" width="4" height="0.9" fill="#5E7A30" fill-opacity="0.6"/><rect x="599.58" y="170.10" width="4" height="22.30" fill="#E31A1C"/><rect x="599.58" y="98.40" width="4" height="71.70" fill="#FDBF6F"/><rect x="599.58" y="224.80" width="4" height="7.90" fill="#A6CEE3"/>
<rect x="605.63" y="197.90" width="4" height="26.90" fill="#1F78B4"/><rect x="605.63" y="196.70" width="4" height="1.20" fill="#B2DF8A"/><rect x="605.63" y="196.70" width="4" height="0.9" fill="#5E7A30" fill-opacity="0.6"/><rect x="605.63" y="179.50" width="4" height="17.20" fill="#E31A1C"/><rect x="605.63" y="112.00" width="4" height="67.50" fill="#FDBF6F"/><rect x="605.63" y="224.80" width="4" height="8.80" fill="#A6CEE3"/>
<rect x="611.68" y="214.70" width="4" height="10.10" fill="#1F78B4"/><rect x="611.68" y="213.70" width="4" height="1.00" fill="#B2DF8A"/><rect x="611.68" y="213.00" width="4" height="0.70" fill="#E31A1C"/><rect x="611.68" y="161.50" width="4" height="51.50" fill="#FDBF6F"/><rect x="611.68" y="224.80" width="4" height="8.80" fill="#A6CEE3"/>
<rect x="617.73" y="217.90" width="4" height="6.90" fill="#1F78B4"/><rect x="617.73" y="216.90" width="4" height="1.00" fill="#B2DF8A"/><rect x="617.73" y="169.20" width="4" height="47.70" fill="#FDBF6F"/><rect x="617.73" y="224.80" width="4" height="9.30" fill="#A6CEE3"/><rect x="617.73" y="234.10" width="4" height="4.90" fill="#E31A1C"/>
<rect x="623.78" y="203.00" width="4" height="21.80" fill="#1F78B4"/><rect x="623.78" y="201.90" width="4" height="1.10" fill="#B2DF8A"/><rect x="623.78" y="188.80" width="4" height="13.10" fill="#E31A1C"/><rect x="623.78" y="119.30" width="4" height="69.50" fill="#FDBF6F"/><rect x="623.78" y="224.80" width="4" height="8.10" fill="#A6CEE3"/>
<rect x="629.83" y="196.70" width="4" height="28.10" fill="#1F78B4"/><rect x="629.83" y="195.60" width="4" height="1.10" fill="#B2DF8A"/><rect x="629.83" y="174.80" width="4" height="20.80" fill="#E31A1C"/><rect x="629.83" y="99.40" width="4" height="75.40" fill="#FDBF6F"/><rect x="629.83" y="224.80" width="4" height="7.20" fill="#A6CEE3"/>
<rect x="635.88" y="203.90" width="4" height="20.90" fill="#1F78B4"/><rect x="635.88" y="202.60" width="4" height="1.30" fill="#B2DF8A"/><rect x="635.88" y="202.60" width="4" height="0.9" fill="#5E7A30" fill-opacity="0.6"/><rect x="635.88" y="186.10" width="4" height="16.50" fill="#E31A1C"/><rect x="635.88" y="118.20" width="4" height="67.90" fill="#FDBF6F"/><rect x="635.88" y="224.80" width="4" height="3.80" fill="#A6CEE3"/>
<rect x="641.93" y="208.90" width="4" height="15.90" fill="#1F78B4"/><rect x="641.93" y="208.10" width="4" height="0.80" fill="#B2DF8A"/><rect x="641.93" y="192.00" width="4" height="16.10" fill="#E31A1C"/><rect x="641.93" y="128.80" width="4" height="63.20" fill="#FDBF6F"/>
<rect x="647.98" y="223.10" width="4" height="1.70" fill="#A6CEE3"/><rect x="647.98" y="221.50" width="4" height="1.60" fill="#B2DF8A"/><rect x="647.98" y="221.50" width="4" height="0.9" fill="#5E7A30" fill-opacity="0.6"/><rect x="647.98" y="187.20" width="4" height="34.30" fill="#FDBF6F"/><rect x="647.98" y="224.80" width="4" height="12.30" fill="#1F78B4"/><rect x="647.98" y="237.10" width="4" height="10.10" fill="#E31A1C"/>
<rect x="654.04" y="221.20" width="4" height="3.60" fill="#A6CEE3"/><rect x="654.04" y="219.90" width="4" height="1.30" fill="#B2DF8A"/><rect x="654.04" y="219.90" width="4" height="0.9" fill="#5E7A30" fill-opacity="0.6"/><rect x="654.04" y="198.20" width="4" height="21.70" fill="#FDBF6F"/><rect x="654.04" y="224.80" width="4" height="25.00" fill="#1F78B4"/><rect x="654.04" y="249.80" width="4" height="20.80" fill="#E31A1C"/>
<rect x="660.09" y="219.10" width="4" height="5.70" fill="#A6CEE3"/><rect x="660.09" y="218.90" width="4" height="0.20" fill="#B2DF8A"/><rect x="660.09" y="217.90" width="4" height="1.00" fill="#E31A1C"/><rect x="660.09" y="176.20" width="4" height="41.70" fill="#FDBF6F"/><rect x="660.09" y="224.80" width="4" height="5.50" fill="#1F78B4"/>
<rect x="666.14" y="219.10" width="4" height="5.70" fill="#A6CEE3"/><rect x="666.14" y="217.90" width="4" height="1.20" fill="#B2DF8A"/><rect x="666.14" y="217.90" width="4" height="0.9" fill="#5E7A30" fill-opacity="0.6"/><rect x="666.14" y="192.90" width="4" height="25.00" fill="#FDBF6F"/><rect x="666.14" y="224.80" width="4" height="21.60" fill="#1F78B4"/><rect x="666.14" y="246.40" width="4" height="13.20" fill="#E31A1C"/>
<rect x="672.19" y="219.10" width="4" height="5.70" fill="#A6CEE3"/><rect x="672.19" y="217.90" width="4" height="1.20" fill="#B2DF8A"/><rect x="672.19" y="217.90" width="4" height="0.9" fill="#5E7A30" fill-opacity="0.6"/><rect x="672.19" y="182.50" width="4" height="35.40" fill="#FDBF6F"/><rect x="672.19" y="224.80" width="4" height="12.30" fill="#1F78B4"/><rect x="672.19" y="237.10" width="4" height="3.70" fill="#E31A1C"/>
<rect x="678.24" y="210.80" width="4" height="14.00" fill="#1F78B4"/><rect x="678.24" y="205.00" width="4" height="5.80" fill="#A6CEE3"/><rect x="678.24" y="204.20" width="4" height="0.80" fill="#B2DF8A"/><rect x="678.24" y="181.10" width="4" height="23.10" fill="#E31A1C"/><rect x="678.24" y="120.10" width="4" height="61.00" fill="#FDBF6F"/>
<rect x="684.29" y="222.80" width="4" height="2.00" fill="#1F78B4"/><rect x="684.29" y="217.90" width="4" height="4.90" fill="#A6CEE3"/><rect x="684.29" y="217.10" width="4" height="0.80" fill="#B2DF8A"/><rect x="684.29" y="207.80" width="4" height="9.30" fill="#E31A1C"/><rect x="684.29" y="159.10" width="4" height="48.70" fill="#FDBF6F"/>
<rect x="690.34" y="221.00" width="4" height="3.80" fill="#A6CEE3"/><rect x="690.34" y="219.90" width="4" height="1.10" fill="#B2DF8A"/><rect x="690.34" y="178.60" width="4" height="41.30" fill="#FDBF6F"/><rect x="690.34" y="224.80" width="4" height="5.50" fill="#1F78B4"/><rect x="690.34" y="230.30" width="4" height="0.50" fill="#E31A1C"/>
<rect x="696.39" y="222.30" width="4" height="2.50" fill="#A6CEE3"/><rect x="696.39" y="221.00" width="4" height="1.30" fill="#B2DF8A"/><rect x="696.39" y="221.00" width="4" height="0.9" fill="#5E7A30" fill-opacity="0.6"/><rect x="696.39" y="197.10" width="4" height="23.90" fill="#FDBF6F"/><rect x="696.39" y="224.80" width="4" height="22.80" fill="#1F78B4"/><rect x="696.39" y="247.60" width="4" height="19.90" fill="#E31A1C"/>
<rect x="702.44" y="223.90" width="4" height="0.90" fill="#B2DF8A"/><rect x="702.44" y="219.60" width="4" height="4.30" fill="#FDBF6F"/><rect x="702.44" y="224.80" width="4" height="43.30" fill="#1F78B4"/><rect x="702.44" y="268.10" width="4" height="42.70" fill="#E31A1C"/>
<rect x="708.49" y="224.30" width="4" height="0.50" fill="#B2DF8A"/><rect x="708.49" y="223.40" width="4" height="0.90" fill="#FDBF6F"/><rect x="708.49" y="224.80" width="4" height="47.90" fill="#1F78B4"/><rect x="708.49" y="272.70" width="4" height="47.90" fill="#E31A1C"/>
<rect x="714.55" y="223.90" width="4" height="0.90" fill="#B2DF8A"/><rect x="714.55" y="192.90" width="4" height="31.00" fill="#FDBF6F"/><rect x="714.55" y="224.80" width="4" height="16.00" fill="#1F78B4"/><rect x="714.55" y="240.80" width="4" height="1.90" fill="#A6CEE3"/><rect x="714.55" y="242.70" width="4" height="18.60" fill="#E31A1C"/>
<rect x="720.60" y="219.10" width="4" height="5.70" fill="#1F78B4"/><rect x="720.60" y="218.40" width="4" height="0.70" fill="#B2DF8A"/><rect x="720.60" y="216.00" width="4" height="2.40" fill="#E31A1C"/><rect x="720.60" y="162.90" width="4" height="53.10" fill="#FDBF6F"/><rect x="720.60" y="224.80" width="4" height="3.30" fill="#A6CEE3"/>
<rect x="726.65" y="223.90" width="4" height="0.90" fill="#B2DF8A"/><rect x="726.65" y="181.10" width="4" height="42.80" fill="#FDBF6F"/><rect x="726.65" y="224.80" width="4" height="4.00" fill="#1F78B4"/><rect x="726.65" y="228.80" width="4" height="3.20" fill="#A6CEE3"/><rect x="726.65" y="232.00" width="4" height="8.40" fill="#E31A1C"/>
<rect x="732.70" y="223.90" width="4" height="0.90" fill="#B2DF8A"/><rect x="732.70" y="178.60" width="4" height="45.30" fill="#FDBF6F"/><rect x="732.70" y="224.80" width="4" height="1.00" fill="#1F78B4"/><rect x="732.70" y="225.80" width="4" height="3.70" fill="#A6CEE3"/><rect x="732.70" y="229.50" width="4" height="5.30" fill="#E31A1C"/>
<rect x="738.75" y="221.50" width="4" height="3.30" fill="#1F78B4"/><rect x="738.75" y="220.40" width="4" height="1.10" fill="#B2DF8A"/><rect x="738.75" y="169.90" width="4" height="50.50" fill="#FDBF6F"/><rect x="738.75" y="224.80" width="4" height="4.00" fill="#A6CEE3"/><rect x="738.75" y="228.80" width="4" height="1.80" fill="#E31A1C"/>
<rect x="744.80" y="219.10" width="4" height="5.70" fill="#1F78B4"/><rect x="744.80" y="218.00" width="4" height="1.10" fill="#B2DF8A"/><rect x="744.80" y="188.20" width="4" height="29.80" fill="#FDBF6F"/><rect x="744.80" y="224.80" width="4" height="5.50" fill="#A6CEE3"/><rect x="744.80" y="230.30" width="4" height="0.50" fill="#E31A1C"/>
<rect x="750.85" y="206.90" width="4" height="17.90" fill="#1F78B4"/><rect x="750.85" y="205.40" width="4" height="1.50" fill="#B2DF8A"/><rect x="750.85" y="205.40" width="4" height="0.9" fill="#5E7A30" fill-opacity="0.6"/><rect x="750.85" y="195.40" width="4" height="10.00" fill="#E31A1C"/><rect x="750.85" y="152.80" width="4" height="42.60" fill="#FDBF6F"/><rect x="750.85" y="224.80" width="4" height="8.70" fill="#A6CEE3"/>
<rect x="756.90" y="216.30" width="4" height="8.50" fill="#1F78B4"/><rect x="756.90" y="215.30" width="4" height="1.00" fill="#B2DF8A"/><rect x="756.90" y="182.10" width="4" height="33.20" fill="#FDBF6F"/><rect x="756.90" y="224.80" width="4" height="9.30" fill="#A6CEE3"/><rect x="756.90" y="234.10" width="4" height="2.70" fill="#E31A1C"/>
<rect x="762.95" y="224.10" width="4" height="0.70" fill="#B2DF8A"/><rect x="762.95" y="202.20" width="4" height="21.90" fill="#FDBF6F"/><rect x="762.95" y="224.80" width="4" height="2.60" fill="#1F78B4"/><rect x="762.95" y="227.40" width="4" height="8.40" fill="#A6CEE3"/><rect x="762.95" y="235.80" width="4" height="11.20" fill="#E31A1C"/>
<rect x="769.00" y="220.90" width="4" height="3.90" fill="#1F78B4"/><rect x="769.00" y="219.80" width="4" height="1.10" fill="#B2DF8A"/><rect x="769.00" y="192.00" width="4" height="27.80" fill="#FDBF6F"/><rect x="769.00" y="224.80" width="4" height="8.20" fill="#A6CEE3"/><rect x="769.00" y="233.00" width="4" height="5.60" fill="#E31A1C"/>
<rect x="775.06" y="224.10" width="4" height="0.70" fill="#B2DF8A"/><rect x="775.06" y="201.00" width="4" height="23.10" fill="#FDBF6F"/><rect x="775.06" y="224.80" width="4" height="11.00" fill="#A6CEE3"/><rect x="775.06" y="235.80" width="4" height="11.80" fill="#E31A1C"/>
<rect x="781.11" y="215.90" width="4" height="8.90" fill="#1F78B4"/><rect x="781.11" y="212.90" width="4" height="3.00" fill="#E31A1C"/><rect x="781.11" y="179.90" width="4" height="33.00" fill="#FDBF6F"/><rect x="781.11" y="224.80" width="4" height="5.40" fill="#A6CEE3"/>
<rect x="787.16" y="211.80" width="4" height="13.00" fill="#1F78B4"/><rect x="787.16" y="210.60" width="4" height="1.20" fill="#B2DF8A"/><rect x="787.16" y="201.30" width="4" height="9.30" fill="#E31A1C"/><rect x="787.16" y="164.00" width="4" height="37.30" fill="#FDBF6F"/><rect x="787.16" y="224.80" width="4" height="4.10" fill="#A6CEE3"/>
<rect x="793.21" y="220.40" width="4" height="4.40" fill="#1F78B4"/><rect x="793.21" y="219.00" width="4" height="1.40" fill="#E31A1C"/><rect x="793.21" y="191.10" width="4" height="27.90" fill="#FDBF6F"/><rect x="793.21" y="224.80" width="4" height="1.70" fill="#A6CEE3"/>
<rect x="799.26" y="215.90" width="4" height="8.90" fill="#1F78B4"/><rect x="799.26" y="214.30" width="4" height="1.60" fill="#A6CEE3"/><rect x="799.26" y="212.50" width="4" height="1.80" fill="#B2DF8A"/><rect x="799.26" y="212.50" width="4" height="0.9" fill="#5E7A30" fill-opacity="0.6"/><rect x="799.26" y="200.40" width="4" height="12.10" fill="#E31A1C"/><rect x="799.26" y="166.80" width="4" height="33.60" fill="#FDBF6F"/>
<rect x="805.31" y="222.80" width="4" height="2.00" fill="#1F78B4"/><rect x="805.31" y="220.40" width="4" height="2.40" fill="#A6CEE3"/><rect x="805.31" y="219.60" width="4" height="0.80" fill="#B2DF8A"/><rect x="805.31" y="214.00" width="4" height="5.60" fill="#E31A1C"/><rect x="805.31" y="187.90" width="4" height="26.10" fill="#FDBF6F"/>
<rect x="811.36" y="219.40" width="4" height="5.40" fill="#A6CEE3"/><rect x="811.36" y="218.10" width="4" height="1.30" fill="#E31A1C"/><rect x="811.36" y="199.10" width="4" height="19.00" fill="#FDBF6F"/><rect x="811.36" y="224.80" width="4" height="5.40" fill="#1F78B4"/>
<rect x="817.41" y="222.80" width="4" height="2.00" fill="#1F78B4"/><rect x="817.41" y="215.90" width="4" height="6.90" fill="#A6CEE3"/><rect x="817.41" y="214.70" width="4" height="1.20" fill="#B2DF8A"/><rect x="817.41" y="203.60" width="4" height="11.10" fill="#E31A1C"/><rect x="817.41" y="176.70" width="4" height="26.90" fill="#FDBF6F"/>
<rect x="823.46" y="218.10" width="4" height="6.70" fill="#A6CEE3"/><rect x="823.46" y="217.20" width="4" height="0.90" fill="#B2DF8A"/><rect x="823.46" y="205.40" width="4" height="11.80" fill="#FDBF6F"/><rect x="823.46" y="224.80" width="4" height="12.00" fill="#1F78B4"/><rect x="823.46" y="236.80" width="4" height="3.80" fill="#E31A1C"/>
<rect x="829.51" y="217.20" width="4" height="7.60" fill="#A6CEE3"/><rect x="829.51" y="216.30" width="4" height="0.90" fill="#B2DF8A"/><rect x="829.51" y="215.30" width="4" height="1.00" fill="#FDBF6F"/><rect x="829.51" y="224.80" width="4" height="23.20" fill="#1F78B4"/><rect x="829.51" y="248.00" width="4" height="12.70" fill="#E31A1C"/>
<rect x="835.57" y="216.30" width="4" height="8.50" fill="#A6CEE3"/><rect x="835.57" y="206.00" width="4" height="10.30" fill="#FDBF6F"/><rect x="835.57" y="224.80" width="4" height="14.90" fill="#1F78B4"/><rect x="835.57" y="239.70" width="4" height="3.20" fill="#E31A1C"/>
<rect x="841.62" y="216.30" width="4" height="8.50" fill="#A6CEE3"/><rect x="841.62" y="206.00" width="4" height="10.30" fill="#E31A1C"/><rect x="841.62" y="182.30" width="4" height="23.70" fill="#FDBF6F"/><rect x="841.62" y="224.80" width="4" height="0.50" fill="#1F78B4"/>
<rect x="847.67" y="208.80" width="4" height="16.00" fill="#1F78B4"/><rect x="847.67" y="201.70" width="4" height="7.10" fill="#A6CEE3"/><rect x="847.67" y="200.90" width="4" height="0.80" fill="#B2DF8A"/><rect x="847.67" y="175.20" width="4" height="25.70" fill="#E31A1C"/><rect x="847.67" y="134.70" width="4" height="40.50" fill="#FDBF6F"/>
<rect x="853.72" y="191.10" width="4" height="33.70" fill="#1F78B4"/><rect x="853.72" y="186.30" width="4" height="4.80" fill="#A6CEE3"/><rect x="853.72" y="185.40" width="4" height="0.90" fill="#B2DF8A"/><rect x="853.72" y="143.80" width="4" height="41.60" fill="#E31A1C"/><rect x="853.72" y="85.20" width="4" height="58.60" fill="#FDBF6F"/>
<rect x="859.77" y="201.70" width="4" height="23.10" fill="#1F78B4"/><rect x="859.77" y="198.50" width="4" height="3.20" fill="#A6CEE3"/><rect x="859.77" y="197.60" width="4" height="0.90" fill="#B2DF8A"/><rect x="859.77" y="169.60" width="4" height="28.00" fill="#E31A1C"/><rect x="859.77" y="114.00" width="4" height="55.60" fill="#FDBF6F"/>
<rect x="865.82" y="222.80" width="4" height="2.00" fill="#A6CEE3"/><rect x="865.82" y="221.80" width="4" height="1.00" fill="#B2DF8A"/><rect x="865.82" y="209.10" width="4" height="12.70" fill="#FDBF6F"/><rect x="865.82" y="224.80" width="4" height="18.40" fill="#1F78B4"/><rect x="865.82" y="243.20" width="4" height="16.60" fill="#E31A1C"/>
<rect x="871.87" y="224.30" width="4" height="0.50" fill="#A6CEE3"/><rect x="871.87" y="222.90" width="4" height="1.40" fill="#B2DF8A"/><rect x="871.87" y="222.90" width="4" height="0.9" fill="#5E7A30" fill-opacity="0.6"/><rect x="871.87" y="214.10" width="4" height="8.80" fill="#FDBF6F"/><rect x="871.87" y="224.80" width="4" height="22.70" fill="#1F78B4"/><rect x="871.87" y="247.50" width="4" height="21.60" fill="#E31A1C"/>
<rect x="877.92" y="223.70" width="4" height="1.10" fill="#B2DF8A"/><rect x="877.92" y="217.60" width="4" height="6.10" fill="#FDBF6F"/><rect x="877.92" y="224.80" width="4" height="25.40" fill="#1F78B4"/><rect x="877.92" y="250.20" width="4" height="26.60" fill="#E31A1C"/>
<rect x="883.97" y="224.30" width="4" height="0.50" fill="#B2DF8A"/><rect x="883.97" y="223.60" width="4" height="0.70" fill="#FDBF6F"/><rect x="883.97" y="224.80" width="4" height="32.10" fill="#1F78B4"/><rect x="883.97" y="256.90" width="4" height="1.20" fill="#A6CEE3"/><rect x="883.97" y="258.10" width="4" height="33.10" fill="#E31A1C"/>
<rect x="890.02" y="224.30" width="4" height="0.50" fill="#B2DF8A"/><rect x="890.02" y="205.90" width="4" height="18.40" fill="#FDBF6F"/><rect x="890.02" y="224.80" width="4" height="14.40" fill="#1F78B4"/><rect x="890.02" y="239.20" width="4" height="2.00" fill="#A6CEE3"/><rect x="890.02" y="241.20" width="4" height="17.60" fill="#E31A1C"/>
<rect x="896.08" y="224.30" width="4" height="0.50" fill="#B2DF8A"/><rect x="896.08" y="193.50" width="4" height="30.80" fill="#FDBF6F"/><rect x="896.08" y="224.80" width="4" height="1.50" fill="#1F78B4"/><rect x="896.08" y="226.30" width="4" height="3.60" fill="#A6CEE3"/><rect x="896.08" y="229.90" width="4" height="5.40" fill="#E31A1C"/>
<rect x="902.13" y="214.10" width="4" height="10.70" fill="#1F78B4"/><rect x="902.13" y="213.50" width="4" height="0.60" fill="#B2DF8A"/><rect x="902.13" y="207.00" width="4" height="6.50" fill="#E31A1C"/><rect x="902.13" y="165.00" width="4" height="42.00" fill="#FDBF6F"/><rect x="902.13" y="224.80" width="4" height="3.70" fill="#A6CEE3"/>
<rect x="908.18" y="195.00" width="4" height="29.80" fill="#1F78B4"/><rect x="908.18" y="194.10" width="4" height="0.90" fill="#B2DF8A"/><rect x="908.18" y="169.90" width="4" height="24.20" fill="#E31A1C"/><rect x="908.18" y="106.90" width="4" height="63.00" fill="#FDBF6F"/><rect x="908.18" y="224.80" width="4" height="6.00" fill="#A6CEE3"/>
<rect x="914.23" y="178.70" width="4" height="46.10" fill="#1F78B4"/><rect x="914.23" y="177.30" width="4" height="1.40" fill="#B2DF8A"/><rect x="914.23" y="177.30" width="4" height="0.9" fill="#5E7A30" fill-opacity="0.6"/><rect x="914.23" y="139.90" width="4" height="37.40" fill="#E31A1C"/><rect x="914.23" y="61.90" width="4" height="78.00" fill="#FDBF6F"/><rect x="914.23" y="224.80" width="4" height="6.90" fill="#A6CEE3"/>
<rect x="920.28" y="177.60" width="4" height="47.20" fill="#1F78B4"/><rect x="920.28" y="176.00" width="4" height="1.60" fill="#B2DF8A"/><rect x="920.28" y="176.00" width="4" height="0.9" fill="#5E7A30" fill-opacity="0.6"/><rect x="920.28" y="138.50" width="4" height="37.50" fill="#E31A1C"/><rect x="920.28" y="58.90" width="4" height="79.60" fill="#FDBF6F"/><rect x="920.28" y="224.80" width="4" height="8.70" fill="#A6CEE3"/>
<rect x="926.33" y="186.50" width="4" height="38.30" fill="#1F78B4"/><rect x="926.33" y="185.20" width="4" height="1.30" fill="#B2DF8A"/><rect x="926.33" y="185.20" width="4" height="0.9" fill="#5E7A30" fill-opacity="0.6"/><rect x="926.33" y="156.60" width="4" height="28.60" fill="#E31A1C"/><rect x="926.33" y="86.30" width="4" height="70.30" fill="#FDBF6F"/><rect x="926.33" y="224.80" width="4" height="9.30" fill="#A6CEE3"/>
<rect x="932.38" y="204.20" width="4" height="20.60" fill="#1F78B4"/><rect x="932.38" y="202.90" width="4" height="1.30" fill="#B2DF8A"/><rect x="932.38" y="202.90" width="4" height="0.9" fill="#5E7A30" fill-opacity="0.6"/><rect x="932.38" y="191.10" width="4" height="11.80" fill="#E31A1C"/><rect x="932.38" y="138.00" width="4" height="53.10" fill="#FDBF6F"/><rect x="932.38" y="224.80" width="4" height="7.80" fill="#A6CEE3"/>
<rect x="938.43" y="224.30" width="4" height="0.50" fill="#A6CEE3"/><rect x="938.43" y="222.90" width="4" height="1.40" fill="#B2DF8A"/><rect x="938.43" y="222.90" width="4" height="0.9" fill="#5E7A30" fill-opacity="0.6"/><rect x="938.43" y="192.90" width="4" height="30.00" fill="#FDBF6F"/><rect x="938.43" y="224.80" width="4" height="2.00" fill="#1F78B4"/><rect x="938.43" y="226.80" width="4" height="6.10" fill="#A6CEE3"/><rect x="938.43" y="232.90" width="4" height="9.20" fill="#E31A1C"/>
<rect x="944.48" y="222.90" width="4" height="1.90" fill="#B2DF8A"/><rect x="944.48" y="222.90" width="4" height="0.9" fill="#5E7A30" fill-opacity="0.6"/><rect x="944.48" y="201.20" width="4" height="21.70" fill="#FDBF6F"/><rect x="944.48" y="224.80" width="4" height="10.10" fill="#1F78B4"/><rect x="944.48" y="234.90" width="4" height="3.10" fill="#A6CEE3"/><rect x="944.48" y="238.00" width="4" height="13.80" fill="#E31A1C"/>
<rect x="950.53" y="224.30" width="4" height="0.50" fill="#1F78B4"/><rect x="950.53" y="222.90" width="4" height="1.40" fill="#B2DF8A"/><rect x="950.53" y="222.90" width="4" height="0.9" fill="#5E7A30" fill-opacity="0.6"/><rect x="950.53" y="191.10" width="4" height="31.80" fill="#FDBF6F"/><rect x="950.53" y="224.80" width="4" height="2.80" fill="#E31A1C"/>
<rect x="956.59" y="219.40" width="4" height="5.40" fill="#1F78B4"/><rect x="956.59" y="216.00" width="4" height="3.40" fill="#A6CEE3"/><rect x="956.59" y="215.80" width="4" height="0.20" fill="#B2DF8A"/><rect x="956.59" y="210.00" width="4" height="5.80" fill="#E31A1C"/><rect x="956.59" y="172.90" width="4" height="37.10" fill="#FDBF6F"/>
<rect x="962.64" y="210.50" width="4" height="14.30" fill="#1F78B4"/><rect x="962.64" y="206.20" width="4" height="4.30" fill="#A6CEE3"/><rect x="962.64" y="204.70" width="4" height="1.50" fill="#B2DF8A"/><rect x="962.64" y="204.70" width="4" height="0.9" fill="#5E7A30" fill-opacity="0.6"/><rect x="962.64" y="185.80" width="4" height="18.90" fill="#E31A1C"/><rect x="962.64" y="139.30" width="4" height="46.50" fill="#FDBF6F"/>
<rect x="968.69" y="219.70" width="4" height="5.10" fill="#1F78B4"/><rect x="968.69" y="216.30" width="4" height="3.40" fill="#A6CEE3"/><rect x="968.69" y="214.10" width="4" height="2.20" fill="#B2DF8A"/><rect x="968.69" y="214.10" width="4" height="0.9" fill="#5E7A30" fill-opacity="0.6"/><rect x="968.69" y="205.30" width="4" height="8.80" fill="#E31A1C"/><rect x="968.69" y="168.80" width="4" height="36.50" fill="#FDBF6F"/>
<rect x="974.74" y="220.60" width="4" height="4.20" fill="#A6CEE3"/><rect x="974.74" y="218.00" width="4" height="2.60" fill="#B2DF8A"/><rect x="974.74" y="218.00" width="4" height="0.9" fill="#5E7A30" fill-opacity="0.6"/><rect x="974.74" y="195.00" width="4" height="23.00" fill="#FDBF6F"/><rect x="974.74" y="224.80" width="4" height="8.30" fill="#1F78B4"/><rect x="974.74" y="233.10" width="4" height="4.90" fill="#E31A1C"/>
<rect x="980.79" y="220.10" width="4" height="4.70" fill="#A6CEE3"/><rect x="980.79" y="218.00" width="4" height="2.10" fill="#B2DF8A"/><rect x="980.79" y="218.00" width="4" height="0.9" fill="#5E7A30" fill-opacity="0.6"/><rect x="980.79" y="208.80" width="4" height="9.20" fill="#FDBF6F"/><rect x="980.79" y="224.80" width="4" height="22.70" fill="#1F78B4"/><rect x="980.79" y="247.50" width="4" height="18.00" fill="#E31A1C"/>
<rect x="986.84" y="220.10" width="4" height="4.70" fill="#A6CEE3"/><rect x="986.84" y="219.30" width="4" height="0.80" fill="#B2DF8A"/><rect x="986.84" y="218.30" width="4" height="1.00" fill="#FDBF6F"/><rect x="986.84" y="224.80" width="4" height="29.90" fill="#1F78B4"/><rect x="986.84" y="254.70" width="4" height="26.00" fill="#E31A1C"/>
<rect x="992.89" y="222.30" width="4" height="2.50" fill="#A6CEE3"/><rect x="992.89" y="220.70" width="4" height="1.60" fill="#B2DF8A"/><rect x="992.89" y="220.70" width="4" height="0.9" fill="#5E7A30" fill-opacity="0.6"/><rect x="992.89" y="211.30" width="4" height="9.40" fill="#FDBF6F"/><rect x="992.89" y="224.80" width="4" height="22.70" fill="#1F78B4"/><rect x="992.89" y="247.50" width="4" height="19.10" fill="#E31A1C"/>
<rect x="998.94" y="222.90" width="4" height="1.90" fill="#A6CEE3"/><rect x="998.94" y="221.50" width="4" height="1.40" fill="#B2DF8A"/><rect x="998.94" y="221.50" width="4" height="0.9" fill="#5E7A30" fill-opacity="0.6"/><rect x="998.94" y="211.30" width="4" height="10.20" fill="#FDBF6F"/><rect x="998.94" y="224.80" width="4" height="21.80" fill="#1F78B4"/><rect x="998.94" y="246.60" width="4" height="18.90" fill="#E31A1C"/>
<rect x="1004.99" y="223.30" width="4" height="1.50" fill="#A6CEE3"/><rect x="1004.99" y="222.30" width="4" height="1.00" fill="#B2DF8A"/><rect x="1004.99" y="205.00" width="4" height="17.30" fill="#FDBF6F"/><rect x="1004.99" y="224.80" width="4" height="14.20" fill="#1F78B4"/><rect x="1004.99" y="239.00" width="4" height="12.10" fill="#E31A1C"/>
<rect x="1011.04" y="223.90" width="4" height="0.90" fill="#A6CEE3"/><rect x="1011.04" y="223.10" width="4" height="0.80" fill="#B2DF8A"/><rect x="1011.04" y="206.30" width="4" height="16.80" fill="#FDBF6F"/><rect x="1011.04" y="224.80" width="4" height="14.20" fill="#1F78B4"/><rect x="1011.04" y="239.00" width="4" height="14.30" fill="#E31A1C"/>
<rect x="1017.10" y="224.30" width="4" height="0.50" fill="#A6CEE3"/><rect x="1017.10" y="223.20" width="4" height="1.10" fill="#B2DF8A"/><rect x="1017.10" y="201.10" width="4" height="22.10" fill="#FDBF6F"/><rect x="1017.10" y="224.80" width="4" height="8.70" fill="#1F78B4"/><rect x="1017.10" y="233.50" width="4" height="11.10" fill="#E31A1C"/>
<rect x="1023.15" y="223.40" width="4" height="1.40" fill="#B2DF8A"/><rect x="1023.15" y="223.40" width="4" height="0.9" fill="#5E7A30" fill-opacity="0.6"/><rect x="1023.15" y="208.10" width="4" height="15.30" fill="#FDBF6F"/><rect x="1023.15" y="224.80" width="4" height="16.00" fill="#1F78B4"/><rect x="1023.15" y="240.80" width="4" height="1.10" fill="#A6CEE3"/><rect x="1023.15" y="241.90" width="4" height="18.70" fill="#E31A1C"/>
<rect x="1029.20" y="223.20" width="4" height="1.60" fill="#B2DF8A"/><rect x="1029.20" y="223.20" width="4" height="0.9" fill="#5E7A30" fill-opacity="0.6"/><rect x="1029.20" y="211.00" width="4" height="12.20" fill="#FDBF6F"/><rect x="1029.20" y="224.80" width="4" height="18.00" fill="#1F78B4"/><rect x="1029.20" y="242.80" width="4" height="2.40" fill="#A6CEE3"/><rect x="1029.20" y="245.20" width="4" height="22.60" fill="#E31A1C"/>
<rect x="1035.25" y="223.20" width="4" height="1.60" fill="#B2DF8A"/><rect x="1035.25" y="223.20" width="4" height="0.9" fill="#5E7A30" fill-opacity="0.6"/><rect x="1035.25" y="197.60" width="4" height="25.60" fill="#FDBF6F"/><rect x="1035.25" y="224.80" width="4" height="4.20" fill="#1F78B4"/><rect x="1035.25" y="229.00" width="4" height="2.70" fill="#A6CEE3"/><rect x="1035.25" y="231.70" width="4" height="8.60" fill="#E31A1C"/>
<rect x="1041.30" y="223.20" width="4" height="1.60" fill="#B2DF8A"/><rect x="1041.30" y="223.20" width="4" height="0.9" fill="#5E7A30" fill-opacity="0.6"/><rect x="1041.30" y="197.60" width="4" height="25.60" fill="#FDBF6F"/><rect x="1041.30" y="224.80" width="4" height="4.70" fill="#1F78B4"/><rect x="1041.30" y="229.50" width="4" height="4.00" fill="#A6CEE3"/><rect x="1041.30" y="233.50" width="4" height="10.40" fill="#E31A1C"/>
<rect x="1047.35" y="223.20" width="4" height="1.60" fill="#B2DF8A"/><rect x="1047.35" y="223.20" width="4" height="0.9" fill="#5E7A30" fill-opacity="0.6"/><rect x="1047.35" y="195.30" width="4" height="27.90" fill="#FDBF6F"/><rect x="1047.35" y="224.80" width="4" height="2.00" fill="#1F78B4"/><rect x="1047.35" y="226.80" width="4" height="5.80" fill="#A6CEE3"/><rect x="1047.35" y="232.60" width="4" height="9.30" fill="#E31A1C"/>
<rect x="1053.40" y="221.50" width="4" height="3.30" fill="#1F78B4"/><rect x="1053.40" y="219.90" width="4" height="1.60" fill="#B2DF8A"/><rect x="1053.40" y="219.90" width="4" height="0.9" fill="#5E7A30" fill-opacity="0.6"/><rect x="1053.40" y="186.90" width="4" height="33.00" fill="#FDBF6F"/><rect x="1053.40" y="224.80" width="4" height="5.10" fill="#A6CEE3"/><rect x="1053.40" y="229.90" width="4" height="3.90" fill="#E31A1C"/>
<rect x="1059.45" y="223.40" width="4" height="1.40" fill="#1F78B4"/><rect x="1059.45" y="222.30" width="4" height="1.10" fill="#B2DF8A"/><rect x="1059.45" y="190.50" width="4" height="31.80" fill="#FDBF6F"/><rect x="1059.45" y="224.80" width="4" height="6.00" fill="#A6CEE3"/><rect x="1059.45" y="230.80" width="4" height="5.90" fill="#E31A1C"/>
<rect x="1065.50" y="214.40" width="4" height="10.40" fill="#1F78B4"/><rect x="1065.50" y="212.90" width="4" height="1.50" fill="#B2DF8A"/><rect x="1065.50" y="212.90" width="4" height="0.9" fill="#5E7A30" fill-opacity="0.6"/><rect x="1065.50" y="211.00" width="4" height="1.90" fill="#E31A1C"/><rect x="1065.50" y="169.90" width="4" height="41.10" fill="#FDBF6F"/><rect x="1065.50" y="224.80" width="4" height="6.90" fill="#A6CEE3"/>
<rect x="1071.55" y="192.90" width="4" height="31.90" fill="#1F78B4"/><rect x="1071.55" y="191.20" width="4" height="1.70" fill="#B2DF8A"/><rect x="1071.55" y="191.20" width="4" height="0.9" fill="#5E7A30" fill-opacity="0.6"/><rect x="1071.55" y="168.80" width="4" height="22.40" fill="#E31A1C"/><rect x="1071.55" y="106.80" width="4" height="62.00" fill="#FDBF6F"/><rect x="1071.55" y="224.80" width="4" height="8.10" fill="#A6CEE3"/>
<rect x="1077.61" y="187.70" width="4" height="37.10" fill="#1F78B4"/><rect x="1077.61" y="185.70" width="4" height="2.00" fill="#B2DF8A"/><rect x="1077.61" y="185.70" width="4" height="0.9" fill="#5E7A30" fill-opacity="0.6"/><rect x="1077.61" y="159.90" width="4" height="25.80" fill="#E31A1C"/><rect x="1077.61" y="91.80" width="4" height="68.10" fill="#FDBF6F"/><rect x="1077.61" y="224.80" width="4" height="9.30" fill="#A6CEE3"/>
<rect x="1083.66" y="192.70" width="4" height="32.10" fill="#1F78B4"/><rect x="1083.66" y="190.90" width="4" height="1.80" fill="#B2DF8A"/><rect x="1083.66" y="190.90" width="4" height="0.9" fill="#5E7A30" fill-opacity="0.6"/><rect x="1083.66" y="166.80" width="4" height="24.10" fill="#E31A1C"/><rect x="1083.66" y="103.90" width="4" height="62.90" fill="#FDBF6F"/><rect x="1083.66" y="224.80" width="4" height="6.90" fill="#A6CEE3"/>
<rect x="1089.71" y="194.30" width="4" height="30.50" fill="#1F78B4"/><rect x="1089.71" y="192.10" width="4" height="2.20" fill="#B2DF8A"/><rect x="1089.71" y="192.10" width="4" height="0.9" fill="#5E7A30" fill-opacity="0.6"/><rect x="1089.71" y="168.80" width="4" height="23.30" fill="#E31A1C"/><rect x="1089.71" y="108.30" width="4" height="60.50" fill="#FDBF6F"/><rect x="1089.71" y="224.80" width="4" height="6.00" fill="#A6CEE3"/>
<rect x="1095.76" y="217.60" width="4" height="7.20" fill="#1F78B4"/><rect x="1095.76" y="216.00" width="4" height="1.60" fill="#B2DF8A"/><rect x="1095.76" y="216.00" width="4" height="0.9" fill="#5E7A30" fill-opacity="0.6"/><rect x="1095.76" y="214.00" width="4" height="2.00" fill="#E31A1C"/><rect x="1095.76" y="176.20" width="4" height="37.80" fill="#FDBF6F"/><rect x="1095.76" y="224.80" width="4" height="3.70" fill="#A6CEE3"/>
<rect x="1101.81" y="223.40" width="4" height="1.40" fill="#B2DF8A"/><rect x="1101.81" y="223.40" width="4" height="0.9" fill="#5E7A30" fill-opacity="0.6"/><rect x="1101.81" y="205.00" width="4" height="18.40" fill="#FDBF6F"/><rect x="1101.81" y="224.80" width="4" height="12.80" fill="#1F78B4"/><rect x="1101.81" y="237.60" width="4" height="0.40" fill="#A6CEE3"/><rect x="1101.81" y="238.00" width="4" height="14.40" fill="#E31A1C"/>
<rect x="1107.86" y="222.30" width="4" height="2.50" fill="#A6CEE3"/><rect x="1107.86" y="210.80" width="4" height="11.50" fill="#FDBF6F"/><rect x="1107.86" y="224.80" width="4" height="20.00" fill="#1F78B4"/><rect x="1107.86" y="244.80" width="4" height="18.90" fill="#E31A1C"/>
<rect x="1113.91" y="221.50" width="4" height="3.30" fill="#A6CEE3"/><rect x="1113.91" y="219.10" width="4" height="2.40" fill="#FDBF6F"/><rect x="1113.91" y="224.80" width="4" height="29.90" fill="#1F78B4"/><rect x="1113.91" y="254.70" width="4" height="26.60" fill="#E31A1C"/>
<rect x="1119.96" y="219.10" width="4" height="5.70" fill="#A6CEE3"/><rect x="1119.96" y="218.00" width="4" height="1.10" fill="#B2DF8A"/><rect x="1119.96" y="197.10" width="4" height="20.90" fill="#FDBF6F"/><rect x="1119.96" y="224.80" width="4" height="10.80" fill="#1F78B4"/><rect x="1119.96" y="235.60" width="4" height="3.90" fill="#E31A1C"/>
<rect x="1126.01" y="208.10" width="4" height="16.70" fill="#1F78B4"/><rect x="1126.01" y="201.90" width="4" height="6.20" fill="#A6CEE3"/><rect x="1126.01" y="200.30" width="4" height="1.60" fill="#B2DF8A"/><rect x="1126.01" y="200.30" width="4" height="0.9" fill="#5E7A30" fill-opacity="0.6"/><rect x="1126.01" y="175.10" width="4" height="25.20" fill="#E31A1C"/><rect x="1126.01" y="126.40" width="4" height="48.70" fill="#FDBF6F"/>
<rect x="1132.06" y="199.20" width="4" height="25.60" fill="#1F78B4"/><rect x="1132.06" y="192.00" width="4" height="7.20" fill="#A6CEE3"/><rect x="1132.06" y="190.90" width="4" height="1.10" fill="#B2DF8A"/><rect x="1132.06" y="155.50" width="4" height="35.40" fill="#E31A1C"/><rect x="1132.06" y="98.60" width="4" height="56.90" fill="#FDBF6F"/>
<rect x="1138.12" y="195.10" width="4" height="29.70" fill="#1F78B4"/><rect x="1138.12" y="186.50" width="4" height="8.60" fill="#A6CEE3"/><rect x="1138.12" y="185.00" width="4" height="1.50" fill="#B2DF8A"/><rect x="1138.12" y="185.00" width="4" height="0.9" fill="#5E7A30" fill-opacity="0.6"/><rect x="1138.12" y="144.50" width="4" height="40.50" fill="#E31A1C"/><rect x="1138.12" y="82.90" width="4" height="61.60" fill="#FDBF6F"/>
<rect x="1144.17" y="219.60" width="4" height="5.20" fill="#1F78B4"/><rect x="1144.17" y="211.30" width="4" height="8.30" fill="#A6CEE3"/><rect x="1144.17" y="210.20" width="4" height="1.10" fill="#B2DF8A"/><rect x="1144.17" y="194.50" width="4" height="15.70" fill="#E31A1C"/><rect x="1144.17" y="157.40" width="4" height="37.10" fill="#FDBF6F"/>
<rect x="1150.22" y="216.80" width="4" height="8.00" fill="#A6CEE3"/><rect x="1150.22" y="201.50" width="4" height="15.30" fill="#FDBF6F"/><rect x="1150.22" y="224.80" width="4" height="17.70" fill="#1F78B4"/><rect x="1150.22" y="242.50" width="4" height="7.00" fill="#E31A1C"/>
<rect x="1156.27" y="219.10" width="4" height="5.70" fill="#A6CEE3"/><rect x="1156.27" y="218.00" width="4" height="1.10" fill="#B2DF8A"/><rect x="1156.27" y="208.90" width="4" height="9.10" fill="#FDBF6F"/><rect x="1156.27" y="224.80" width="4" height="23.40" fill="#1F78B4"/><rect x="1156.27" y="248.20" width="4" height="14.40" fill="#E31A1C"/>
<rect x="1162.32" y="220.20" width="4" height="4.60" fill="#A6CEE3"/><rect x="1162.32" y="219.60" width="4" height="0.60" fill="#B2DF8A"/><rect x="1162.32" y="218.00" width="4" height="1.60" fill="#FDBF6F"/><rect x="1162.32" y="224.80" width="4" height="31.30" fill="#1F78B4"/><rect x="1162.32" y="256.10" width="4" height="23.70" fill="#E31A1C"/>
<rect x="1168.37" y="221.20" width="4" height="3.60" fill="#A6CEE3"/><rect x="1168.37" y="220.20" width="4" height="1.00" fill="#B2DF8A"/><rect x="1168.37" y="210.20" width="4" height="10.00" fill="#FDBF6F"/><rect x="1168.37" y="224.80" width="4" height="22.70" fill="#1F78B4"/><rect x="1168.37" y="247.50" width="4" height="16.60" fill="#E31A1C"/>
<rect x="1174.42" y="222.90" width="4" height="1.90" fill="#A6CEE3"/><rect x="1174.42" y="222.00" width="4" height="0.90" fill="#B2DF8A"/><rect x="1174.42" y="203.90" width="4" height="18.10" fill="#FDBF6F"/><rect x="1174.42" y="224.80" width="4" height="14.40" fill="#1F78B4"/><rect x="1174.42" y="239.20" width="4" height="11.40" fill="#E31A1C"/>
<rect x="1180.47" y="223.90" width="4" height="0.90" fill="#A6CEE3"/><rect x="1180.47" y="223.10" width="4" height="0.80" fill="#B2DF8A"/><rect x="1180.47" y="219.10" width="4" height="4.00" fill="#FDBF6F"/><rect x="1180.47" y="224.80" width="4" height="28.10" fill="#1F78B4"/><rect x="1180.47" y="252.90" width="4" height="26.90" fill="#E31A1C"/>
<rect x="1186.52" y="223.90" width="4" height="0.90" fill="#B2DF8A"/><rect x="1186.52" y="214.10" width="4" height="9.80" fill="#FDBF6F"/><rect x="1186.52" y="224.80" width="4" height="21.80" fill="#1F78B4"/><rect x="1186.52" y="246.60" width="4" height="22.30" fill="#E31A1C"/>
<rect x="1192.57" y="223.90" width="4" height="0.90" fill="#B2DF8A"/><rect x="1192.57" y="195.10" width="4" height="28.80" fill="#FDBF6F"/><rect x="1192.57" y="224.80" width="4" height="3.30" fill="#1F78B4"/><rect x="1192.57" y="228.10" width="4" height="5.70" fill="#E31A1C"/>
<rect x="1198.62" y="223.90" width="4" height="0.90" fill="#B2DF8A"/><rect x="1198.62" y="198.20" width="4" height="25.70" fill="#FDBF6F"/><rect x="1198.62" y="224.80" width="4" height="5.60" fill="#1F78B4"/><rect x="1198.62" y="230.40" width="4" height="2.40" fill="#A6CEE3"/><rect x="1198.62" y="232.80" width="4" height="9.40" fill="#E31A1C"/>
<rect x="1204.68" y="222.00" width="4" height="2.80" fill="#1F78B4"/><rect x="1204.68" y="221.00" width="4" height="1.00" fill="#E31A1C"/><rect x="1204.68" y="186.10" width="4" height="34.90" fill="#FDBF6F"/><rect x="1204.68" y="224.80" width="4" height="3.30" fill="#A6CEE3"/><rect x="1204.68" y="228.10" width="4" height="2.40" fill="#E31A1C"/>
<rect x="1210.73" y="211.80" width="4" height="13.00" fill="#1F78B4"/><rect x="1210.73" y="210.80" width="4" height="1.00" fill="#B2DF8A"/><rect x="1210.73" y="201.90" width="4" height="8.90" fill="#E31A1C"/><rect x="1210.73" y="157.40" width="4" height="44.50" fill="#FDBF6F"/><rect x="1210.73" y="224.80" width="4" height="3.60" fill="#A6CEE3"/>
<rect x="1216.78" y="212.90" width="4" height="11.90" fill="#1F78B4"/><rect x="1216.78" y="211.80" width="4" height="1.10" fill="#B2DF8A"/><rect x="1216.78" y="206.30" width="4" height="5.50" fill="#E31A1C"/><rect x="1216.78" y="163.00" width="4" height="43.30" fill="#FDBF6F"/><rect x="1216.78" y="224.80" width="4" height="6.20" fill="#A6CEE3"/>
<rect x="1222.83" y="192.10" width="4" height="32.70" fill="#1F78B4"/><rect x="1222.83" y="191.30" width="4" height="0.80" fill="#B2DF8A"/><rect x="1222.83" y="166.50" width="4" height="24.80" fill="#E31A1C"/><rect x="1222.83" y="102.40" width="4" height="64.10" fill="#FDBF6F"/><rect x="1222.83" y="224.80" width="4" height="7.80" fill="#A6CEE3"/>
<rect x="1228.88" y="182.90" width="4" height="41.90" fill="#1F78B4"/><rect x="1228.88" y="181.70" width="4" height="1.20" fill="#B2DF8A"/><rect x="1228.88" y="181.70" width="4" height="0.9" fill="#5E7A30" fill-opacity="0.6"/><rect x="1228.88" y="146.90" width="4" height="34.80" fill="#E31A1C"/><rect x="1228.88" y="58.80" width="4" height="88.10" fill="#FDBF6F"/><rect x="1228.88" y="224.80" width="4" height="6.80" fill="#A6CEE3"/>
<rect x="1234.93" y="202.90" width="4" height="21.90" fill="#1F78B4"/><rect x="1234.93" y="201.70" width="4" height="1.20" fill="#B2DF8A"/><rect x="1234.93" y="201.70" width="4" height="0.9" fill="#5E7A30" fill-opacity="0.6"/><rect x="1234.93" y="187.90" width="4" height="13.80" fill="#E31A1C"/><rect x="1234.93" y="119.30" width="4" height="68.60" fill="#FDBF6F"/><rect x="1234.93" y="224.80" width="4" height="7.70" fill="#A6CEE3"/>
<rect x="1240.98" y="220.10" width="4" height="4.70" fill="#1F78B4"/><rect x="1240.98" y="218.90" width="4" height="1.20" fill="#B2DF8A"/><rect x="1240.98" y="218.90" width="4" height="0.9" fill="#5E7A30" fill-opacity="0.6"/><rect x="1240.98" y="168.20" width="4" height="50.70" fill="#FDBF6F"/><rect x="1240.98" y="224.80" width="4" height="4.10" fill="#A6CEE3"/><rect x="1240.98" y="228.90" width="4" height="2.10" fill="#E31A1C"/>
<rect x="1247.03" y="224.30" width="4" height="0.50" fill="#A6CEE3"/><rect x="1247.03" y="222.90" width="4" height="1.40" fill="#B2DF8A"/><rect x="1247.03" y="222.90" width="4" height="0.9" fill="#5E7A30" fill-opacity="0.6"/><rect x="1247.03" y="194.10" width="4" height="28.80" fill="#FDBF6F"/><rect x="1247.03" y="224.80" width="4" height="16.00" fill="#1F78B4"/><rect x="1247.03" y="240.80" width="4" height="2.90" fill="#A6CEE3"/><rect x="1247.03" y="243.70" width="4" height="19.80" fill="#E31A1C"/>
<rect x="1253.08" y="224.30" width="4" height="0.50" fill="#A6CEE3"/><rect x="1253.08" y="223.60" width="4" height="0.70" fill="#B2DF8A"/><rect x="1253.08" y="197.10" width="4" height="26.50" fill="#FDBF6F"/><rect x="1253.08" y="224.80" width="4" height="19.60" fill="#1F78B4"/><rect x="1253.08" y="244.40" width="4" height="1.00" fill="#A6CEE3"/><rect x="1253.08" y="245.40" width="4" height="22.20" fill="#E31A1C"/>
<rect x="1259.13" y="222.40" width="4" height="2.40" fill="#1F78B4"/><rect x="1259.13" y="221.30" width="4" height="1.10" fill="#A6CEE3"/><rect x="1259.13" y="220.60" width="4" height="0.70" fill="#B2DF8A"/><rect x="1259.13" y="218.30" width="4" height="2.30" fill="#E31A1C"/><rect x="1259.13" y="170.30" width="4" height="48.00" fill="#FDBF6F"/>
<rect x="1265.19" y="220.10" width="4" height="4.70" fill="#1F78B4"/><rect x="1265.19" y="218.30" width="4" height="1.80" fill="#A6CEE3"/><rect x="1265.19" y="217.10" width="4" height="1.20" fill="#B2DF8A"/><rect x="1265.19" y="217.10" width="4" height="0.9" fill="#5E7A30" fill-opacity="0.6"/><rect x="1265.19" y="210.00" width="4" height="7.10" fill="#E31A1C"/><rect x="1265.19" y="159.30" width="4" height="50.70" fill="#FDBF6F"/>
<rect x="1271.24" y="209.10" width="4" height="15.70" fill="#1F78B4"/><rect x="1271.24" y="205.90" width="4" height="3.20" fill="#A6CEE3"/><rect x="1271.24" y="205.20" width="4" height="0.70" fill="#B2DF8A"/><rect x="1271.24" y="184.90" width="4" height="20.30" fill="#E31A1C"/><rect x="1271.24" y="122.90" width="4" height="62.00" fill="#FDBF6F"/>
<rect x="1277.29" y="195.30" width="4" height="29.50" fill="#1F78B4"/><rect x="1277.29" y="191.40" width="4" height="3.90" fill="#A6CEE3"/><rect x="1277.29" y="190.50" width="4" height="0.90" fill="#B2DF8A"/><rect x="1277.29" y="154.80" width="4" height="35.70" fill="#E31A1C"/><rect x="1277.29" y="79.20" width="4" height="75.60" fill="#FDBF6F"/>
<rect x="1283.34" y="207.30" width="4" height="17.50" fill="#1F78B4"/><rect x="1283.34" y="202.40" width="4" height="4.90" fill="#A6CEE3"/><rect x="1283.34" y="201.50" width="4" height="0.90" fill="#B2DF8A"/><rect x="1283.34" y="176.80" width="4" height="24.70" fill="#E31A1C"/><rect x="1283.34" y="112.80" width="4" height="64.00" fill="#FDBF6F"/>
<rect x="1289.39" y="216.70" width="4" height="8.10" fill="#1F78B4"/><rect x="1289.39" y="210.90" width="4" height="5.80" fill="#A6CEE3"/><rect x="1289.39" y="210.00" width="4" height="0.90" fill="#B2DF8A"/><rect x="1289.39" y="193.70" width="4" height="16.30" fill="#E31A1C"/><rect x="1289.39" y="139.70" width="4" height="54.00" fill="#FDBF6F"/>
<rect x="1295.44" y="220.60" width="4" height="4.20" fill="#A6CEE3"/><rect x="1295.44" y="218.90" width="4" height="1.70" fill="#B2DF8A"/><rect x="1295.44" y="218.90" width="4" height="0.9" fill="#5E7A30" fill-opacity="0.6"/><rect x="1295.44" y="189.10" width="4" height="29.80" fill="#FDBF6F"/><rect x="1295.44" y="224.80" width="4" height="15.50" fill="#1F78B4"/><rect x="1295.44" y="240.30" width="4" height="11.30" fill="#E31A1C"/>
<rect x="1301.49" y="219.70" width="4" height="5.10" fill="#A6CEE3"/><rect x="1301.49" y="218.90" width="4" height="0.80" fill="#B2DF8A"/><rect x="1301.49" y="213.60" width="4" height="5.30" fill="#FDBF6F"/><rect x="1301.49" y="224.80" width="4" height="40.20" fill="#1F78B4"/><rect x="1301.49" y="265.00" width="4" height="35.60" fill="#E31A1C"/>
<rect x="1307.54" y="221.90" width="4" height="2.90" fill="#A6CEE3"/><rect x="1307.54" y="220.60" width="4" height="1.30" fill="#B2DF8A"/><rect x="1307.54" y="220.60" width="4" height="0.9" fill="#5E7A30" fill-opacity="0.6"/><rect x="1307.54" y="220.10" width="4" height="0.50" fill="#FDBF6F"/><rect x="1307.54" y="224.80" width="4" height="45.90" fill="#1F78B4"/><rect x="1307.54" y="270.70" width="4" height="42.80" fill="#E31A1C"/>
<rect x="1313.59" y="223.30" width="4" height="1.50" fill="#A6CEE3"/><rect x="1313.59" y="221.90" width="4" height="1.40" fill="#B2DF8A"/><rect x="1313.59" y="221.90" width="4" height="0.9" fill="#5E7A30" fill-opacity="0.6"/><rect x="1313.59" y="210.00" width="4" height="11.90" fill="#FDBF6F"/><rect x="1313.59" y="224.80" width="4" height="33.30" fill="#1F78B4"/><rect x="1313.59" y="258.10" width="4" height="33.20" fill="#E31A1C"/>
<rect x="1319.64" y="222.90" width="4" height="1.90" fill="#1F78B4"/><rect x="1319.64" y="221.90" width="4" height="1.00" fill="#B2DF8A"/><rect x="1319.64" y="177.30" width="4" height="44.60" fill="#FDBF6F"/><rect x="1319.64" y="224.80" width="4" height="1.50" fill="#A6CEE3"/>
<rect x="1325.70" y="219.70" width="4" height="5.10" fill="#1F78B4"/><rect x="1325.70" y="218.30" width="4" height="1.40" fill="#B2DF8A"/><rect x="1325.70" y="218.30" width="4" height="0.9" fill="#5E7A30" fill-opacity="0.6"/><rect x="1325.70" y="214.10" width="4" height="4.20" fill="#E31A1C"/><rect x="1325.70" y="162.80" width="4" height="51.30" fill="#FDBF6F"/>
<rect x="1331.75" y="219.40" width="4" height="5.40" fill="#1F78B4"/><rect x="1331.75" y="217.60" width="4" height="1.80" fill="#B2DF8A"/><rect x="1331.75" y="217.60" width="4" height="0.9" fill="#5E7A30" fill-opacity="0.6"/><rect x="1331.75" y="214.80" width="4" height="2.80" fill="#E31A1C"/><rect x="1331.75" y="162.80" width="4" height="52.00" fill="#FDBF6F"/><rect x="1331.75" y="224.80" width="4" height="2.10" fill="#A6CEE3"/>
<rect x="1337.80" y="205.20" width="4" height="19.60" fill="#1F78B4"/><rect x="1337.80" y="203.80" width="4" height="1.40" fill="#B2DF8A"/><rect x="1337.80" y="203.80" width="4" height="0.9" fill="#5E7A30" fill-opacity="0.6"/><rect x="1337.80" y="187.20" width="4" height="16.60" fill="#E31A1C"/><rect x="1337.80" y="122.10" width="4" height="65.10" fill="#FDBF6F"/><rect x="1337.80" y="224.80" width="4" height="2.60" fill="#A6CEE3"/>
<rect x="1343.85" y="222.90" width="4" height="1.90" fill="#1F78B4"/><rect x="1343.85" y="221.90" width="4" height="1.00" fill="#B2DF8A"/><rect x="1343.85" y="173.40" width="4" height="48.50" fill="#FDBF6F"/><rect x="1343.85" y="224.80" width="4" height="1.50" fill="#A6CEE3"/><rect x="1343.85" y="226.30" width="4" height="1.90" fill="#E31A1C"/>
</g>
<polyline points="147.3,265.9 265.6,266.0 277.5,229.1 377.5,229.1 384.0,287.2 499.0,287.2 505.9,265.1 619.8,265.1 626.6,271.1 741.4,271.1 747.7,247.8 856.8,248.0 861.4,256.0 975.7,256.0 981.0,254.4 1098.5,254.4 1105.0,255.8 1225.0,255.8 1232.5,270.5 1346.7,270.5" fill="none" stroke="#1F78B4" stroke-width="1.6" stroke-dasharray="12 4.6 3.4 4.7"/>
<g stroke="#000" stroke-width="1.5" fill="none">
<polyline points="1364.4,32.4 1364.4,416.5 121.7,416.5" stroke-width="1.9"/>
<line x1="121.9" y1="32.3" x2="1364.4" y2="32.3" stroke="#404040" stroke-width="1.8"/>
<line x1="129.5" y1="32.4" x2="129.5" y2="416.5" stroke-width="1.9"/>
<line x1="113.5" y1="379.00" x2="129.5" y2="379.00"/>
<line x1="121.5" y1="340.45" x2="129.5" y2="340.45"/>
<line x1="113.5" y1="301.90" x2="129.5" y2="301.90"/>
<line x1="121.5" y1="263.35" x2="129.5" y2="263.35"/>
<line x1="113.5" y1="224.80" x2="129.5" y2="224.80"/>
<line x1="121.5" y1="186.25" x2="129.5" y2="186.25"/>
<line x1="113.5" y1="147.70" x2="129.5" y2="147.70"/>
<line x1="121.5" y1="109.15" x2="129.5" y2="109.15"/>
<line x1="113.5" y1="70.60" x2="129.5" y2="70.60"/>
<line x1="141.70" y1="416.5" x2="141.70" y2="432.5"/>
<line x1="202.21" y1="416.5" x2="202.21" y2="424.5"/>
<line x1="262.72" y1="416.5" x2="262.72" y2="432.5"/>
<line x1="323.23" y1="416.5" x2="323.23" y2="424.5"/>
<line x1="383.74" y1="416.5" x2="383.74" y2="432.5"/>
<line x1="444.25" y1="416.5" x2="444.25" y2="424.5"/>
<line x1="504.76" y1="416.5" x2="504.76" y2="432.5"/>
<line x1="565.27" y1="416.5" x2="565.27" y2="424.5"/>
<line x1="625.78" y1="416.5" x2="625.78" y2="432.5"/>
<line x1="686.29" y1="416.5" x2="686.29" y2="424.5"/>
<line x1="746.80" y1="416.5" x2="746.80" y2="432.5"/>
<line x1="807.31" y1="416.5" x2="807.31" y2="424.5"/>
<line x1="867.82" y1="416.5" x2="867.82" y2="432.5"/>
<line x1="928.33" y1="416.5" x2="928.33" y2="424.5"/>
<line x1="988.84" y1="416.5" x2="988.84" y2="432.5"/>
<line x1="1049.35" y1="416.5" x2="1049.35" y2="424.5"/>
<line x1="1109.86" y1="416.5" x2="1109.86" y2="432.5"/>
<line x1="1170.37" y1="416.5" x2="1170.37" y2="424.5"/>
<line x1="1230.88" y1="416.5" x2="1230.88" y2="432.5"/>
<line x1="1291.39" y1="416.5" x2="1291.39" y2="424.5"/>
<line x1="1351.90" y1="416.5" x2="1351.90" y2="432.5"/>
</g>
<g style="font-size:23px">
<text x="102" y="75.60" text-anchor="end">200</text>
<text x="102" y="152.70" text-anchor="end">100</text>
<text x="102" y="229.80" text-anchor="end">0</text>
<text x="102" y="306.90" text-anchor="end">-100</text>
<text x="102" y="384.00" text-anchor="end">-200</text>
<text x="141.70" y="459.8" text-anchor="middle">0</text>
<text x="262.72" y="459.8" text-anchor="middle">10</text>
<text x="383.74" y="459.8" text-anchor="middle">20</text>
<text x="504.76" y="459.8" text-anchor="middle">30</text>
<text x="625.78" y="459.8" text-anchor="middle">40</text>
<text x="746.80" y="459.8" text-anchor="middle">50</text>
<text x="867.82" y="459.8" text-anchor="middle">60</text>
<text x="988.84" y="459.8" text-anchor="middle">70</text>
<text x="1109.86" y="459.8" text-anchor="middle">80</text>
<text x="1230.88" y="459.8" text-anchor="middle">90</text>
<text x="1351.90" y="459.8" text-anchor="middle">100</text>
</g>
<text transform="translate(45.2,322) rotate(-90)" style="font-size:23px">Rn fluxes [Bq/m<tspan dy="-10" style="font-size:16px">2</tspan><tspan dy="10">/h]</tspan></text>
<text x="746.5" y="505.3" text-anchor="middle" style="font-size:23px">Test time [hour]</text>
<rect x="500.8" y="388.2" width="26" height="12.6" fill="#FDBF6F"/>
<rect x="603" y="388.2" width="26" height="12.6" fill="#E31A1C"/>
<rect x="716" y="388.2" width="26" height="12.6" fill="#FB9A99"/>
<rect x="808.4" y="388.2" width="26" height="12.6" fill="#33A02C"/>
<rect x="899.5" y="388.2" width="26" height="12.6" fill="#B2DF8A"/>
<rect x="993.9" y="388.2" width="26" height="12.6" fill="#A6CEE3"/>
<rect x="1100.9" y="388.2" width="26" height="12.6" fill="#1F78B4"/>
<line x1="1190" y1="394" x2="1203" y2="394" stroke="#1F78B4" stroke-width="1.8"/>
<line x1="1207.5" y1="394" x2="1210" y2="394" stroke="#1F78B4" stroke-width="1.8"/>
<line x1="1214" y1="394" x2="1216.7" y2="394" stroke="#1F78B4" stroke-width="1.8"/>
<text class="serif" x="546.2" y="402" style="font-size:23px">F<tspan dy="5.6" style="font-size:16px">SGD</tspan></text>
<text class="serif" x="761.1" y="402" style="font-size:23px">F<tspan dy="5.6" style="font-size:16px">dec</tspan></text>
<text class="serif" x="853.3" y="402" style="font-size:23px">F<tspan dy="5.6" style="font-size:16px">sed</tspan></text>
<text class="serif" x="945.2" y="402" style="font-size:23px">F<tspan dy="5.6" style="font-size:16px">atm</tspan></text>
<text class="serif" x="1039" y="402" style="font-size:23px">F<tspan dy="5.6" style="font-size:16px">in/out</tspan></text>
<text class="serif" x="1146.3" y="402" style="font-size:23px">F<tspan dy="5.6" style="font-size:16px">net</tspan></text>
<text class="serif" x="1236" y="402" style="font-size:23px">F<tspan dy="5.6" style="font-size:16px">mix</tspan></text>
<text class="serif" x="648" y="401.5" style="font-size:23px">&#916;I/&#916;t</text>

<text transform="translate(1.5,533) scale(0.9,1)" style="font-size:26px">B</text>
<path d="M147.7,715.9C148.8,717.4 152.4,721.5 154.0,725.0C155.6,728.5 155.4,730.1 157.2,736.6C159.0,743.1 162.1,754.5 164.6,764.0C167.1,773.5 169.6,783.0 172.0,793.6C174.4,804.2 177.0,818.2 179.3,827.4C181.6,836.5 183.8,843.4 185.7,848.5C187.6,853.6 189.2,856.0 191.0,858.0C192.8,860.0 194.3,861.5 196.2,860.8C198.1,860.1 200.5,858.0 202.6,853.8C204.7,849.6 207.0,843.0 208.9,835.8C210.8,828.6 212.4,820.7 214.2,810.5C216.0,800.3 217.9,784.8 219.5,774.6C221.1,764.4 222.3,758.4 223.7,749.3C225.1,740.1 226.6,730.1 227.9,719.7C229.2,709.3 230.3,697.0 231.7,686.9C233.0,676.7 234.5,668.1 236.0,659.0C237.5,649.9 239.3,639.9 240.7,632.3C242.1,624.7 243.1,619.5 244.6,613.4C246.1,607.2 247.6,601.1 249.4,595.4C251.2,589.6 253.4,582.8 255.6,578.9C257.8,575.0 260.3,572.8 262.7,572.3C265.1,571.8 267.7,573.7 269.8,575.7C271.9,577.7 273.5,580.7 275.3,584.4C277.1,588.1 279.0,592.9 280.8,597.7C282.6,602.5 284.3,607.9 286.3,613.4C288.3,618.9 290.5,624.9 292.6,630.7C294.7,636.5 296.8,642.0 298.9,648.0C301.0,654.0 302.8,659.6 305.2,666.9C307.6,674.2 310.8,683.7 313.0,692.0C315.2,700.3 316.8,710.1 318.5,716.7C320.2,723.3 321.8,726.4 323.5,731.7C325.2,737.0 326.6,743.2 328.5,748.5C330.4,753.8 333.1,760.3 335.2,763.5C337.3,766.7 339.2,768.0 341.1,767.7C343.1,767.4 345.1,764.7 346.9,761.8C348.7,758.9 350.2,754.8 351.9,750.1C353.6,745.4 355.2,739.2 356.9,733.4C358.6,727.5 360.5,720.6 362.0,715.0C363.5,709.4 364.6,706.5 366.1,700.0C367.6,693.5 369.2,685.8 371.1,675.7C373.0,665.6 375.2,650.4 377.2,639.2C379.2,628.0 381.3,617.3 383.3,608.7C385.3,600.1 387.1,592.7 389.4,587.4C391.7,582.1 394.7,578.7 397.0,576.7C399.3,574.7 401.1,574.9 403.1,575.2C405.1,575.5 406.9,575.8 409.2,578.3C411.5,580.8 414.3,585.4 416.8,590.5C419.3,595.6 421.9,602.1 424.4,608.7C426.9,615.3 429.5,621.9 432.0,630.0C434.5,638.1 437.1,648.3 439.6,657.4C442.1,666.5 444.7,675.1 447.2,684.8C449.7,694.4 452.3,705.1 454.8,715.3C457.3,725.4 459.8,735.6 462.4,745.7C464.9,755.9 467.6,766.0 470.1,776.2C472.7,786.4 475.2,798.1 477.7,806.7C480.2,815.3 482.9,823.2 485.3,828.0C487.7,832.8 490.0,836.1 492.3,835.6C494.6,835.1 495.5,834.4 499.0,825.0C502.5,815.6 509.4,797.0 513.3,779.2C517.2,761.4 519.4,736.6 522.4,718.3C525.4,700.0 528.5,684.0 531.5,669.6C534.5,655.2 537.7,643.3 540.7,631.6C543.8,619.9 547.0,607.5 549.8,599.6C552.6,591.7 554.9,587.5 557.4,584.4C559.9,581.2 562.2,580.2 565.0,580.7C567.8,581.2 571.2,583.8 574.2,587.4C577.2,591.0 580.3,596.5 583.3,602.6C586.3,608.7 589.3,615.9 592.4,624.0C595.5,632.1 598.5,641.8 601.6,651.4C604.7,661.0 607.7,672.2 610.7,681.8C613.7,691.4 616.8,700.6 619.8,709.2C622.8,717.8 626.2,728.3 629.0,733.6C631.8,738.9 634.1,739.9 636.3,741.2C638.5,742.5 639.9,743.0 642.4,741.2C644.9,739.4 648.5,736.9 651.5,730.5C654.5,724.1 657.7,712.2 660.7,703.1C663.8,694.0 666.8,685.9 669.8,675.7C672.8,665.6 676.0,651.6 679.0,642.2C682.0,632.8 685.1,625.2 688.1,619.4C691.1,613.6 694.7,609.7 697.2,607.2C699.7,604.7 700.8,603.7 703.3,604.2C705.8,604.7 709.3,607.4 712.4,610.2C715.5,613.0 718.5,616.6 721.6,620.9C724.7,625.2 727.7,630.0 730.7,636.1C733.7,642.2 736.8,648.8 739.8,657.4C742.8,666.0 746.4,679.8 749.0,687.9C751.6,696.0 752.6,697.1 755.2,706.2C757.8,715.3 761.4,730.5 764.4,742.7C767.4,754.9 770.5,768.0 773.5,779.2C776.5,790.4 780.1,802.8 782.6,809.7C785.1,816.6 786.7,817.6 788.7,820.4C790.7,823.2 792.5,826.7 794.8,826.4C797.1,826.1 800.1,821.6 802.4,818.8C804.7,816.0 806.2,816.3 808.5,809.7C810.8,803.1 813.6,789.4 816.1,779.2C818.6,769.1 821.2,759.9 823.7,748.8C826.2,737.6 828.9,723.5 831.4,712.3C833.9,701.1 836.5,692.5 839.0,681.8C841.5,671.1 843.8,657.9 846.6,648.3C849.4,638.7 852.7,630.4 855.7,624.0C858.7,617.6 861.8,613.2 864.8,610.2C867.8,607.2 870.7,605.7 874.0,605.7C877.3,605.7 881.1,607.2 884.4,610.2C887.6,613.2 890.5,618.7 893.5,624.0C896.5,629.3 899.6,635.1 902.6,642.2C905.6,649.3 908.8,658.5 911.8,666.6C914.8,674.7 917.9,683.3 920.9,690.9C923.9,698.5 927.0,705.2 930.0,712.3C933.0,719.4 936.2,728.7 939.2,733.6C942.2,738.5 945.3,741.3 948.3,741.8C951.3,742.3 954.6,740.5 957.4,736.6C960.2,732.7 962.3,724.9 965.1,718.3C967.9,711.7 971.2,704.1 974.2,697.0C977.2,689.9 979.8,682.7 983.3,675.7C986.8,668.7 991.5,660.6 995.0,655.0C998.4,649.5 1001.1,645.4 1003.9,642.4C1006.7,639.4 1009.1,637.5 1011.8,637.1C1014.4,636.7 1017.1,638.0 1019.8,639.8C1022.4,641.6 1025.0,644.2 1027.7,647.7C1030.4,651.2 1033.0,655.7 1035.7,661.0C1038.4,666.3 1041.1,672.5 1043.7,679.6C1046.3,686.7 1048.9,695.0 1051.6,703.4C1054.2,711.8 1056.9,721.1 1059.6,730.0C1062.2,738.9 1064.8,747.7 1067.5,756.5C1070.2,765.3 1072.8,774.2 1075.5,783.0C1078.2,791.8 1080.8,802.2 1083.4,809.5C1086.1,816.8 1088.7,822.1 1091.4,826.8C1094.1,831.4 1097.2,835.6 1099.4,837.4C1101.6,839.2 1102.5,838.9 1104.7,837.4C1106.9,835.9 1110.5,833.5 1112.6,828.1C1114.7,822.7 1114.9,814.6 1117.1,805.1C1119.3,795.6 1122.8,782.8 1125.6,770.9C1128.4,759.0 1131.3,745.7 1134.2,733.8C1137.1,721.9 1139.9,711.1 1142.7,699.7C1145.5,688.3 1148.5,676.0 1151.3,665.5C1154.1,655.0 1156.9,645.1 1159.8,637.0C1162.7,628.9 1165.6,622.5 1168.4,617.0C1171.2,611.5 1174.1,606.8 1176.9,604.2C1179.8,601.6 1182.7,600.9 1185.5,601.4C1188.3,601.9 1191.2,603.5 1194.0,607.1C1196.8,610.7 1199.8,616.8 1202.6,622.7C1205.4,628.6 1208.2,635.1 1211.1,642.7C1213.9,650.3 1216.8,660.2 1219.7,668.3C1222.6,676.4 1225.5,684.8 1228.2,691.1C1230.9,697.4 1233.2,700.4 1236.0,706.1C1238.9,711.8 1242.6,720.4 1245.6,725.3C1248.6,730.2 1251.3,734.3 1254.2,735.3C1257.1,736.2 1259.9,734.1 1262.7,731.0C1265.5,727.9 1268.5,723.0 1271.3,716.8C1274.1,710.6 1276.9,702.1 1279.8,694.0C1282.7,685.9 1285.6,676.4 1288.4,668.3C1291.2,660.2 1294.3,651.4 1296.9,645.5C1299.5,639.6 1301.6,636.0 1304.0,632.7C1306.4,629.4 1308.4,628.2 1311.2,625.6C1314.0,623.0 1318.2,618.0 1321.1,617.0C1323.9,616.0 1325.7,617.5 1328.3,619.9C1330.9,622.3 1333.9,627.7 1336.8,631.3C1339.7,634.9 1344.0,639.6 1345.4,641.3" fill="none" stroke="#5E5E5E" stroke-width="2.6" stroke-linejoin="round"/>
<path d="M185.9,719.7L188.3,709.3M192.3,693.8L193.9,688.2M210.6,688.1L212.0,692.5M216.9,707.7L217.8,710.4M222.9,725.6L223.9,728.4M228.5,743.7L230.4,750.9M234.2,766.4L236.8,777.8M240.3,793.4L242.8,804.2M246.3,819.8L248.9,831.7M271.8,847.3L271.8,847.1M288.7,827.7L291.2,817.4M295.6,802.0L296.4,799.6M312.8,796.5L315.5,808.5M319.2,824.0L321.2,832.0M332.3,837.3L332.4,837.0M337.6,821.9L339.1,817.3M343.7,801.9L345.1,797.2M350.4,782.1L350.5,781.9M367.8,789.7L369.5,795.8M385.9,767.3L387.6,761.4M397.0,757.9L400.7,783.9M403.4,799.7L406.5,815.8M409.7,831.5L412.3,843.3M416.3,843.5L417.7,839.0M421.1,823.5L425.0,793.6M427.3,777.8L430.9,754.0M433.1,738.2L437.3,700.7M439.4,684.9L443.1,660.5M446.0,644.8L448.5,633.6M452.0,618.0L454.6,606.2M470.2,609.3L472.8,621.1M475.8,636.8L479.3,659.0M483.2,674.5L484.0,676.7M506.3,696.0L509.3,710.9M511.8,726.6L515.8,758.0M518.5,773.7L521.3,787.0M525.6,802.3L526.3,804.1M549.6,819.2L550.6,822.2M567.3,823.7L569.3,816.2M572.8,800.6L575.9,784.4M579.0,768.7L581.8,755.4M585.1,739.8L587.7,728.0M591.7,712.5L593.3,706.6M598.5,691.5L598.6,691.1M634.5,689.9L635.2,688.1M639.8,688.4L642.0,697.2M645.2,712.9L648.7,735.1M652.7,750.5L653.3,752.3M658.0,767.6L660.2,776.4M669.9,777.9L672.5,766.1M683.2,749.3L683.3,748.9M693.6,758.6L697.1,780.8M699.8,796.6L703.1,815.8M712.8,822.1L714.2,817.7M718.4,802.2L720.8,792.0M724.2,776.4L727.1,761.5M731.6,746.3L731.7,745.9M737.7,745.9L737.8,746.3M755.4,770.4L756.4,773.5M816.3,805.3L816.5,805.7M822.4,820.5L822.5,820.9M839.9,831.3L841.3,826.9M844.8,811.3L848.5,787.5M851.2,771.7L854.2,755.5M864.0,762.9L865.6,768.3M869.1,783.9L872.6,805.2M875.2,821.0L878.6,841.7M888.9,840.7L889.1,840.3M893.9,825.1L896.1,816.3M899.2,800.6L903.0,773.8M905.3,758.0L909.1,731.2M911.6,715.4L914.8,697.7M918.7,682.2L919.8,679.1M929.8,685.5L933.0,703.2M935.6,719.0L939.2,742.8M942.2,758.5L944.8,770.3M961.5,773.7L961.7,773.3M973.2,779.6L974.2,782.6M978.2,798.1L981.3,814.3M985.1,829.8L986.5,834.3M1046.1,802.0L1046.6,800.8M1063.7,771.5L1065.3,765.9M1069.4,750.4L1071.7,740.8M1076.2,725.5L1077.0,723.3M1082.1,708.2L1083.2,704.8M1088.1,704.8L1089.2,708.2M1093.1,723.7L1096.4,742.4M1099.2,758.2L1102.4,775.5M1105.0,791.3L1108.7,816.6M1118.2,828.3L1119.6,823.7M1123.3,808.1L1126.7,788.4M1129.4,772.6L1132.7,754.2M1136.9,738.8L1137.2,738.1M1142.2,738.3L1144.1,745.7M1147.6,761.3L1150.8,779.7M1153.3,795.5L1157.1,822.4M1160.8,837.9L1161.8,841.2M1185.0,838.4L1186.0,835.1M1196.6,818.3L1198.6,811.0M1203.1,795.7L1204.2,792.3M1209.6,777.2L1209.8,776.5M1214.5,761.2L1217.0,749.8M1220.1,734.1L1223.5,714.3M1227.7,698.9L1228.0,698.2M1239.0,691.3L1240.9,698.7M1244.1,714.3L1247.9,742.6M1263.3,755.7L1265.0,749.7M1268.7,734.1L1271.7,718.6M1287.5,702.7L1289.2,708.7M1292.4,724.3L1296.4,756.9M1298.6,772.7L1302.4,799.6M1305.0,815.4L1308.0,831.0M1317.0,819.6L1320.2,802.6M1323.0,786.8L1326.4,767.0M1329.1,751.2L1332.4,732.8" fill="none" stroke="#EA3A3E" stroke-width="2.4" stroke-linecap="round"/>
<path d="M147.8,720.7L157.0,736.2L138.6,736.2ZM153.8,718.6L163.0,734.1L144.6,734.1ZM159.9,715.8L169.1,731.3L150.7,731.3ZM165.9,723.2L175.1,738.7L156.7,738.7ZM172.0,725.7L181.2,741.2L162.8,741.2ZM178.0,727.4L187.2,742.9L168.8,742.9ZM184.1,717.9L193.3,733.4L174.9,733.4ZM190.1,691.9L199.3,707.4L180.9,707.4ZM196.2,670.9L205.4,686.4L187.0,686.4ZM202.2,658.2L211.4,673.7L193.0,673.7ZM208.3,670.9L217.5,686.4L199.1,686.4ZM214.3,690.5L223.5,706.0L205.1,706.0ZM220.4,708.4L229.6,723.9L211.2,723.9ZM226.4,726.4L235.6,741.9L217.2,741.9ZM232.5,749.0L241.7,764.5L223.3,764.5ZM238.5,776.0L247.7,791.5L229.3,791.5ZM244.6,802.4L253.8,817.9L235.4,817.9ZM250.6,829.9L259.8,845.4L241.4,845.4ZM256.7,842.6L265.9,858.1L247.5,858.1ZM262.7,834.2L271.9,849.7L253.5,849.7ZM268.8,845.1L278.0,860.6L259.6,860.6ZM274.8,830.1L284.0,845.6L265.6,845.6ZM280.9,823.4L290.1,838.9L271.7,838.9ZM286.9,825.9L296.1,841.4L277.7,841.4ZM293.0,800.0L302.2,815.5L283.8,815.5ZM299.0,782.4L308.2,797.9L289.8,797.9ZM305.1,774.1L314.3,789.6L295.9,789.6ZM311.1,779.1L320.3,794.6L301.9,794.6ZM317.2,806.7L326.4,822.2L308.0,822.2ZM323.2,830.1L332.4,845.6L314.0,845.6ZM329.3,835.1L338.5,850.6L320.1,850.6ZM335.3,820.0L344.5,835.5L326.1,835.5ZM341.4,800.0L350.6,815.5L332.2,815.5ZM347.4,779.9L356.6,795.4L338.2,795.4ZM353.5,764.9L362.7,780.4L344.3,780.4ZM359.5,760.7L368.7,776.2L350.3,776.2ZM365.6,772.4L374.8,787.9L356.4,787.9ZM371.6,793.9L380.8,809.4L362.4,809.4ZM377.7,779.9L386.9,795.4L368.5,795.4ZM383.7,765.4L392.9,780.9L374.5,780.9ZM389.8,744.1L399.0,759.6L380.6,759.6ZM395.8,740.4L405.0,755.9L386.6,755.9ZM401.9,782.2L411.1,797.7L392.7,797.7ZM407.9,814.1L417.1,829.6L398.7,829.6ZM414.0,841.5L423.2,857.0L404.8,857.0ZM420.0,821.8L429.2,837.3L410.8,837.3ZM426.1,776.1L435.3,791.6L416.9,791.6ZM432.1,736.5L441.3,752.0L422.9,752.0ZM438.2,683.2L447.4,698.7L429.0,698.7ZM444.2,643.0L453.4,658.5L435.1,658.5ZM450.3,616.2L459.5,631.7L441.1,631.7ZM456.4,588.8L465.6,604.3L447.2,604.3ZM462.4,578.1L471.6,593.6L453.2,593.6ZM468.5,591.9L477.7,607.4L459.3,607.4ZM474.5,619.3L483.7,634.8L465.3,634.8ZM480.6,657.3L489.8,672.8L471.4,672.8ZM486.6,674.7L495.8,690.2L477.4,690.2ZM492.7,675.6L501.9,691.1L483.5,691.1ZM498.7,675.6L507.9,691.1L489.5,691.1ZM504.8,678.6L514.0,694.1L495.6,694.1ZM510.8,709.1L520.0,724.6L501.6,724.6ZM516.9,756.3L526.1,771.8L507.7,771.8ZM522.9,785.2L532.1,800.7L513.7,800.7ZM529.0,802.0L538.2,817.5L519.8,817.5ZM535.0,805.0L544.2,820.5L525.8,820.5ZM541.1,791.3L550.3,806.8L531.9,806.8ZM547.1,802.0L556.3,817.5L537.9,817.5ZM553.2,820.2L562.4,835.7L544.0,835.7ZM559.2,823.3L568.4,838.8L550.0,838.8ZM565.3,821.8L574.5,837.3L556.1,837.3ZM571.3,798.9L580.5,814.4L562.1,814.4ZM577.4,766.9L586.6,782.4L568.2,782.4ZM583.4,738.0L592.6,753.5L574.2,753.5ZM589.5,710.6L598.7,726.1L580.3,726.1ZM595.5,689.3L604.7,704.8L586.3,704.8ZM601.6,674.1L610.8,689.6L592.4,689.6ZM607.6,683.2L616.8,698.7L598.4,698.7ZM613.7,695.4L622.9,710.9L604.5,710.9ZM619.7,698.4L628.9,713.9L610.5,713.9ZM625.8,686.2L635.0,701.7L616.6,701.7ZM631.8,687.8L641.0,703.3L622.6,703.3ZM637.9,671.0L647.1,686.5L628.7,686.5ZM643.9,695.4L653.1,710.9L634.7,710.9ZM650.0,733.4L659.2,748.9L640.8,748.9ZM656.0,750.2L665.2,765.7L646.8,765.7ZM662.1,774.6L671.3,790.1L652.9,790.1ZM668.1,776.1L677.3,791.6L658.9,791.6ZM674.2,748.7L683.4,764.2L665.0,764.2ZM680.2,747.1L689.4,762.6L671.0,762.6ZM686.3,731.9L695.5,747.4L677.1,747.4ZM692.3,741.1L701.5,756.6L683.1,756.6ZM698.4,779.1L707.6,794.6L689.2,794.6ZM704.4,814.1L713.6,829.6L695.2,829.6ZM710.5,820.2L719.7,835.7L701.3,835.7ZM716.5,800.4L725.7,815.9L707.3,815.9ZM722.6,774.6L731.8,790.1L713.4,790.1ZM728.6,744.1L737.8,759.6L719.4,759.6ZM734.7,728.9L743.9,744.4L725.5,744.4ZM740.7,744.1L749.9,759.6L731.5,759.6ZM746.8,746.4L756.0,761.9L737.6,761.9ZM752.9,753.2L762.1,768.7L743.7,768.7ZM758.9,771.5L768.1,787.0L749.7,787.0ZM765.0,774.6L774.2,790.1L755.8,790.1ZM771.0,786.7L780.2,802.2L761.8,802.2ZM777.1,786.7L786.3,802.2L767.9,802.2ZM783.1,777.6L792.3,793.1L773.9,793.1ZM789.2,776.1L798.4,791.6L780.0,791.6ZM795.2,770.0L804.4,785.5L786.0,785.5ZM801.3,774.6L810.5,790.1L792.1,790.1ZM807.3,786.7L816.5,802.2L798.1,802.2ZM813.4,788.3L822.6,803.8L804.2,803.8ZM819.4,803.5L828.6,819.0L810.2,819.0ZM825.5,818.7L834.7,834.2L816.3,834.2ZM831.5,827.8L840.7,843.3L822.3,843.3ZM837.6,829.4L846.8,844.9L828.4,844.9ZM843.6,809.6L852.8,825.1L834.4,825.1ZM849.7,770.0L858.9,785.5L840.5,785.5ZM855.7,738.0L864.9,753.5L846.5,753.5ZM861.8,745.6L871.0,761.1L852.6,761.1ZM867.8,766.4L877.0,781.9L858.6,781.9ZM873.9,803.5L883.1,819.0L864.7,819.0ZM879.9,840.0L889.1,855.5L870.7,855.5ZM886.0,838.5L895.2,854.0L876.8,854.0ZM892.0,823.3L901.2,838.8L882.8,838.8ZM898.1,798.9L907.3,814.4L888.9,814.4ZM904.1,756.3L913.3,771.8L894.9,771.8ZM910.2,713.7L919.4,729.2L901.0,729.2ZM916.2,680.2L925.4,695.7L907.0,695.7ZM922.3,661.9L931.5,677.4L913.1,677.4ZM928.3,668.0L937.5,683.5L919.1,683.5ZM934.4,701.5L943.6,717.0L925.2,717.0ZM940.4,741.1L949.6,756.6L931.2,756.6ZM946.5,768.5L955.7,784.0L937.3,784.0ZM952.5,777.6L961.7,793.1L943.3,793.1ZM958.6,771.5L967.8,787.0L949.4,787.0ZM964.6,756.3L973.8,771.8L955.4,771.8ZM970.7,762.4L979.9,777.9L961.5,777.9ZM976.7,780.6L985.9,796.1L967.5,796.1ZM982.8,812.6L992.0,828.1L973.6,828.1ZM988.8,832.3L998.0,847.8L979.6,847.8ZM994.9,843.1L1004.1,858.6L985.7,858.6ZM1000.9,838.9L1010.1,854.4L991.7,854.4ZM1007.0,828.1L1016.2,843.6L997.8,843.6ZM1013.0,817.6L1022.2,833.1L1003.8,833.1ZM1019.1,813.6L1028.3,829.1L1009.9,829.1ZM1025.1,816.6L1034.3,832.1L1015.9,832.1ZM1031.2,809.7L1040.4,825.2L1022.0,825.2ZM1037.2,807.7L1046.4,823.2L1028.0,823.2ZM1043.3,799.9L1052.5,815.4L1034.1,815.4ZM1049.3,783.7L1058.5,799.2L1040.1,799.2ZM1055.4,780.4L1064.6,795.9L1046.2,795.9ZM1061.5,769.6L1070.7,785.1L1052.3,785.1ZM1067.5,748.6L1076.7,764.1L1058.3,764.1ZM1073.6,723.4L1082.8,738.9L1064.4,738.9ZM1079.6,706.2L1088.8,721.7L1070.4,721.7ZM1085.7,687.6L1094.9,703.1L1076.5,703.1ZM1091.7,706.2L1100.9,721.7L1082.5,721.7ZM1097.8,740.7L1107.0,756.2L1088.6,756.2ZM1103.8,773.8L1113.0,789.3L1094.6,789.3ZM1109.9,814.9L1119.1,830.4L1100.7,830.4ZM1115.9,826.4L1125.1,841.9L1106.7,841.9ZM1122.0,806.4L1131.2,821.9L1112.8,821.9ZM1128.0,770.9L1137.2,786.4L1118.8,786.4ZM1134.1,736.7L1143.3,752.2L1124.9,752.2ZM1140.1,721.0L1149.3,736.5L1130.9,736.5ZM1146.2,743.8L1155.4,759.3L1137.0,759.3ZM1152.2,778.0L1161.4,793.5L1143.0,793.5ZM1158.3,820.7L1167.5,836.2L1149.1,836.2ZM1164.3,839.2L1173.5,854.7L1155.1,854.7ZM1170.4,837.8L1179.6,853.3L1161.2,853.3ZM1176.4,843.5L1185.6,859.0L1167.2,859.0ZM1182.5,836.4L1191.7,851.9L1173.3,851.9ZM1188.5,817.9L1197.7,833.4L1179.3,833.4ZM1194.6,816.4L1203.8,831.9L1185.4,831.9ZM1200.6,793.7L1209.8,809.2L1191.4,809.2ZM1206.7,775.1L1215.9,790.6L1197.5,790.6ZM1212.7,759.4L1221.9,774.9L1203.5,774.9ZM1218.8,732.4L1228.0,747.9L1209.6,747.9ZM1224.8,696.8L1234.0,712.3L1215.6,712.3ZM1230.9,681.1L1240.1,696.6L1221.7,696.6ZM1236.9,674.0L1246.1,689.5L1227.7,689.5ZM1243.0,696.8L1252.2,712.3L1233.8,712.3ZM1249.0,740.9L1258.2,756.4L1239.8,756.4ZM1255.1,752.4L1264.3,767.9L1245.9,767.9ZM1261.1,753.8L1270.3,769.3L1251.9,769.3ZM1267.2,732.4L1276.4,747.9L1258.0,747.9ZM1273.2,701.1L1282.4,716.6L1264.0,716.6ZM1279.3,688.2L1288.5,703.7L1270.1,703.7ZM1285.3,685.4L1294.5,700.9L1276.1,700.9ZM1291.4,706.8L1300.6,722.3L1282.2,722.3ZM1297.4,755.2L1306.6,770.7L1288.2,770.7ZM1303.5,797.9L1312.7,813.4L1294.3,813.4ZM1309.5,829.3L1318.7,844.8L1300.3,844.8ZM1315.6,817.9L1324.8,833.4L1306.4,833.4ZM1321.6,785.1L1330.8,800.6L1312.4,800.6ZM1327.7,749.5L1336.9,765.0L1318.5,765.0ZM1333.7,715.3L1342.9,730.8L1324.5,730.8ZM1339.8,712.4L1349.0,727.9L1330.6,727.9ZM1345.8,708.2L1355.0,723.7L1336.6,723.7Z" fill="none" stroke="#EA3A3E" stroke-width="2.1" stroke-linejoin="round"/>
<g stroke="#000" stroke-width="1.5" fill="none">
<polyline points="121.8,531.8 1364.5,531.8 1364.5,916.6 121.7,916.6" stroke-width="1.9"/>
<line x1="129.6" y1="531.8" x2="129.6" y2="916.6" stroke-width="1.9"/>
<line x1="1364.5" y1="916.6" x2="1372" y2="916.6" stroke-width="1.9"/>
<line x1="113.6" y1="868.50" x2="129.6" y2="868.50"/>
<line x1="121.6" y1="820.40" x2="129.6" y2="820.40"/>
<line x1="113.6" y1="772.30" x2="129.6" y2="772.30"/>
<line x1="121.6" y1="724.20" x2="129.6" y2="724.20"/>
<line x1="113.6" y1="676.10" x2="129.6" y2="676.10"/>
<line x1="121.6" y1="628.00" x2="129.6" y2="628.00"/>
<line x1="113.6" y1="579.90" x2="129.6" y2="579.90"/>
<line x1="1364.5" y1="861.63" x2="1379.5" y2="861.63"/>
<line x1="1364.5" y1="806.66" x2="1372.0" y2="806.66"/>
<line x1="1364.5" y1="751.69" x2="1379.5" y2="751.69"/>
<line x1="1364.5" y1="696.72" x2="1372.0" y2="696.72"/>
<line x1="1364.5" y1="641.75" x2="1379.5" y2="641.75"/>
<line x1="1364.5" y1="586.78" x2="1372.0" y2="586.78"/>
<line x1="1364.5" y1="531.81" x2="1379.5" y2="531.81"/>
<line x1="141.70" y1="916.6" x2="141.70" y2="932.6"/>
<line x1="202.21" y1="916.6" x2="202.21" y2="924.6"/>
<line x1="262.72" y1="916.6" x2="262.72" y2="932.6"/>
<line x1="323.23" y1="916.6" x2="323.23" y2="924.6"/>
<line x1="383.74" y1="916.6" x2="383.74" y2="932.6"/>
<line x1="444.25" y1="916.6" x2="444.25" y2="924.6"/>
<line x1="504.76" y1="916.6" x2="504.76" y2="932.6"/>
<line x1="565.27" y1="916.6" x2="565.27" y2="924.6"/>
<line x1="625.78" y1="916.6" x2="625.78" y2="932.6"/>
<line x1="686.29" y1="916.6" x2="686.29" y2="924.6"/>
<line x1="746.80" y1="916.6" x2="746.80" y2="932.6"/>
<line x1="807.31" y1="916.6" x2="807.31" y2="924.6"/>
<line x1="867.82" y1="916.6" x2="867.82" y2="932.6"/>
<line x1="928.33" y1="916.6" x2="928.33" y2="924.6"/>
<line x1="988.84" y1="916.6" x2="988.84" y2="932.6"/>
<line x1="1049.35" y1="916.6" x2="1049.35" y2="924.6"/>
<line x1="1109.86" y1="916.6" x2="1109.86" y2="932.6"/>
<line x1="1170.37" y1="916.6" x2="1170.37" y2="924.6"/>
<line x1="1230.88" y1="916.6" x2="1230.88" y2="932.6"/>
<line x1="1291.39" y1="916.6" x2="1291.39" y2="924.6"/>
<line x1="1351.90" y1="916.6" x2="1351.90" y2="932.6"/>
</g>
<g style="font-size:23px">
<text x="102" y="873.90" text-anchor="end">0</text>
<text x="102" y="777.70" text-anchor="end">1</text>
<text x="102" y="681.50" text-anchor="end">2</text>
<text x="102" y="585.30" text-anchor="end">3</text>
<text x="1391" y="867.13">6</text>
<text x="1391" y="757.19">7</text>
<text x="1391" y="647.25">8</text>
<text x="1391" y="537.31">9</text>
<text x="141.70" y="960.3" text-anchor="middle">0</text>
<text x="262.72" y="960.3" text-anchor="middle">10</text>
<text x="383.74" y="960.3" text-anchor="middle">20</text>
<text x="504.76" y="960.3" text-anchor="middle">30</text>
<text x="625.78" y="960.3" text-anchor="middle">40</text>
<text x="746.80" y="960.3" text-anchor="middle">50</text>
<text x="867.82" y="960.3" text-anchor="middle">60</text>
<text x="988.84" y="960.3" text-anchor="middle">70</text>
<text x="1109.86" y="960.3" text-anchor="middle">80</text>
<text x="1230.88" y="960.3" text-anchor="middle">90</text>
<text x="1351.90" y="960.3" text-anchor="middle">100</text>
</g>
<text transform="translate(74.7,805) rotate(-90)" style="font-size:23px">SGD flux [cm/h]</text>
<text transform="translate(1438.5,806.1) rotate(-90)" style="font-size:23px">Water depth [m]</text>
<text x="746.5" y="1012.7" text-anchor="middle" style="font-size:23px">Test time [hour]</text>
<g stroke="#EA3A3E" stroke-width="2.6" stroke-linecap="round">
<line x1="975.5" y1="565.6" x2="996" y2="565.6"/>
<line x1="1017" y1="565.6" x2="1037" y2="565.6"/>
</g>
<path d="M1006.3,555.4L1015.5,571.2L997.1,571.2Z" fill="none" stroke="#EA3A3E" stroke-width="2.1" stroke-linejoin="round"/>
<line x1="1148.8" y1="565.6" x2="1210.7" y2="565.6" stroke="#5E5E5E" stroke-width="2.6" stroke-linecap="round"/>
<text x="1043.6" y="574.8" style="font-size:23px">SGD flux</text>
<text x="1217.4" y="574.8" style="font-size:23px">Water depth</text>

</svg>
</body></html>
